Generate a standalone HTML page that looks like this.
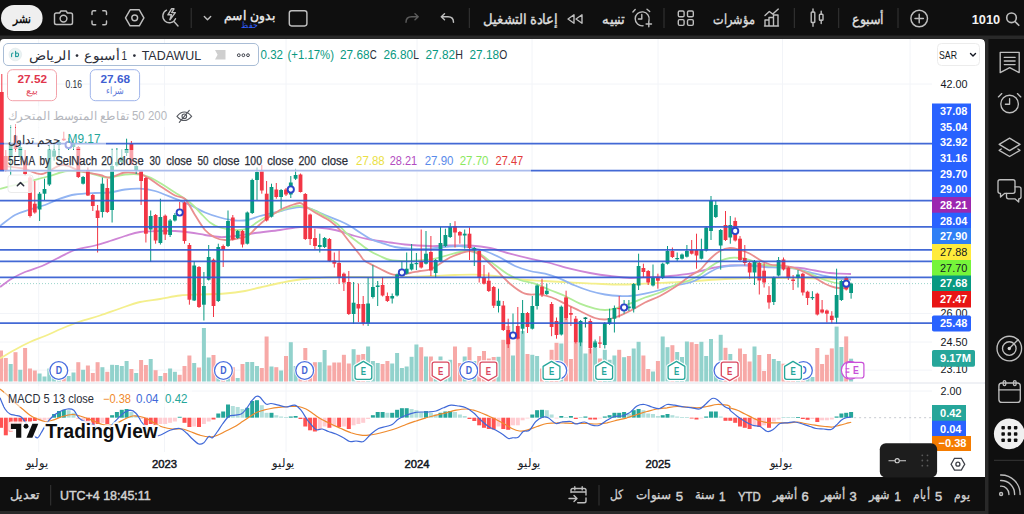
<!DOCTYPE html>
<html lang="ar"><head><meta charset="utf-8"><title>TADAWUL chart</title>
<style>
html,body{margin:0;padding:0;background:#292929;}
body{width:1024px;height:514px;overflow:hidden;font-family:"Liberation Sans",sans-serif;}
svg{display:block;font-family:"Liberation Sans",sans-serif;}
</style></head><body>
<svg width="1024" height="514" viewBox="0 0 1024 514" font-family="Liberation Sans, sans-serif">
<rect width="1024" height="514" fill="#292929"/>
<rect x="0" y="0" width="1024" height="35.5" fill="#0f0f0f"/>
<rect x="988.5" y="39" width="36" height="475" fill="#0f0f0f"/>
<rect x="0" y="477" width="985" height="34" fill="#0f0f0f"/>
<path d="M0 477V43Q0 39 4 39H980Q985 39 985 44V477Z" fill="#fff"/>
<g id="chart">
<line x1="38.7" y1="39" x2="38.7" y2="452" stroke="#f2f4f8" stroke-width="1"/>
<line x1="164.5" y1="39" x2="164.5" y2="452" stroke="#f2f4f8" stroke-width="1"/>
<line x1="286" y1="39" x2="286" y2="452" stroke="#f2f4f8" stroke-width="1"/>
<line x1="417" y1="39" x2="417" y2="452" stroke="#f2f4f8" stroke-width="1"/>
<line x1="532" y1="39" x2="532" y2="452" stroke="#f2f4f8" stroke-width="1"/>
<line x1="658" y1="39" x2="658" y2="452" stroke="#f2f4f8" stroke-width="1"/>
<line x1="782.5" y1="39" x2="782.5" y2="452" stroke="#f2f4f8" stroke-width="1"/>
<line x1="910" y1="39" x2="910" y2="452" stroke="#f2f4f8" stroke-width="1"/>
<line x1="0" y1="84.0" x2="932" y2="84.0" stroke="#f2f4f8" stroke-width="1"/>
<line x1="0" y1="313.5" x2="932" y2="313.5" stroke="#f2f4f8" stroke-width="1"/>
<line x1="0" y1="342.0" x2="932" y2="342.0" stroke="#f2f4f8" stroke-width="1"/>
<line x1="0" y1="370.1" x2="932" y2="370.1" stroke="#f2f4f8" stroke-width="1"/>
<line x1="0" y1="391" x2="932" y2="391" stroke="#f2f4f8" stroke-width="1"/>
<rect x="-1.0" y="350.5" width="4" height="31.0" fill="#f7a9a7"/>
<rect x="3.8" y="358.0" width="4" height="23.5" fill="#f7a9a7"/>
<rect x="8.7" y="364.0" width="4" height="17.5" fill="#92d2cc"/>
<rect x="13.5" y="352.2" width="4" height="29.2" fill="#f7a9a7"/>
<rect x="18.3" y="369.8" width="4" height="11.8" fill="#92d2cc"/>
<rect x="23.1" y="348.0" width="4" height="33.5" fill="#f7a9a7"/>
<rect x="28.0" y="368.5" width="4" height="13.0" fill="#f7a9a7"/>
<rect x="32.8" y="370.5" width="4" height="11.0" fill="#f7a9a7"/>
<rect x="37.6" y="373.5" width="4" height="8.0" fill="#92d2cc"/>
<rect x="42.5" y="376.5" width="4" height="5.0" fill="#92d2cc"/>
<rect x="47.3" y="368.5" width="4" height="13.0" fill="#92d2cc"/>
<rect x="52.1" y="373.5" width="4" height="8.0" fill="#92d2cc"/>
<rect x="57.0" y="371.0" width="4" height="10.5" fill="#92d2cc"/>
<rect x="61.8" y="372.2" width="4" height="9.2" fill="#f7a9a7"/>
<rect x="66.6" y="376.0" width="4" height="5.5" fill="#92d2cc"/>
<rect x="71.5" y="372.5" width="4" height="9.0" fill="#92d2cc"/>
<rect x="76.3" y="362.2" width="4" height="19.2" fill="#f7a9a7"/>
<rect x="81.1" y="369.8" width="4" height="11.8" fill="#92d2cc"/>
<rect x="85.9" y="365.5" width="4" height="16.0" fill="#f7a9a7"/>
<rect x="90.8" y="373.0" width="4" height="8.5" fill="#f7a9a7"/>
<rect x="95.6" y="362.2" width="4" height="19.2" fill="#f7a9a7"/>
<rect x="100.4" y="367.2" width="4" height="14.2" fill="#92d2cc"/>
<rect x="105.3" y="371.8" width="4" height="9.8" fill="#f7a9a7"/>
<rect x="110.1" y="364.8" width="4" height="16.8" fill="#92d2cc"/>
<rect x="114.9" y="365.0" width="4" height="16.5" fill="#92d2cc"/>
<rect x="119.8" y="366.0" width="4" height="15.5" fill="#92d2cc"/>
<rect x="124.6" y="361.0" width="4" height="20.5" fill="#92d2cc"/>
<rect x="129.4" y="369.0" width="4" height="12.5" fill="#f7a9a7"/>
<rect x="134.2" y="373.0" width="4" height="8.5" fill="#92d2cc"/>
<rect x="139.1" y="360.0" width="4" height="21.5" fill="#f7a9a7"/>
<rect x="143.9" y="365.0" width="4" height="16.5" fill="#f7a9a7"/>
<rect x="148.7" y="359.0" width="4" height="22.5" fill="#92d2cc"/>
<rect x="153.6" y="370.2" width="4" height="11.2" fill="#f7a9a7"/>
<rect x="158.4" y="376.0" width="4" height="5.5" fill="#92d2cc"/>
<rect x="163.2" y="373.0" width="4" height="8.5" fill="#f7a9a7"/>
<rect x="168.1" y="368.5" width="4" height="13.0" fill="#92d2cc"/>
<rect x="172.9" y="371.8" width="4" height="9.8" fill="#92d2cc"/>
<rect x="177.7" y="374.8" width="4" height="6.8" fill="#f7a9a7"/>
<rect x="182.5" y="366.0" width="4" height="15.5" fill="#f7a9a7"/>
<rect x="187.4" y="355.5" width="4" height="26.0" fill="#f7a9a7"/>
<rect x="192.2" y="363.0" width="4" height="18.5" fill="#92d2cc"/>
<rect x="197.0" y="367.5" width="4" height="14.0" fill="#f7a9a7"/>
<rect x="201.9" y="328.0" width="4" height="53.5" fill="#92d2cc"/>
<rect x="206.7" y="357.5" width="4" height="24.0" fill="#92d2cc"/>
<rect x="211.5" y="355.0" width="4" height="26.5" fill="#f7a9a7"/>
<rect x="216.3" y="366.0" width="4" height="15.5" fill="#92d2cc"/>
<rect x="221.2" y="369.8" width="4" height="11.8" fill="#f7a9a7"/>
<rect x="226.0" y="363.5" width="4" height="18.0" fill="#92d2cc"/>
<rect x="230.8" y="367.2" width="4" height="14.2" fill="#f7a9a7"/>
<rect x="235.7" y="378.0" width="4" height="3.5" fill="#92d2cc"/>
<rect x="240.5" y="364.0" width="4" height="17.5" fill="#f7a9a7"/>
<rect x="245.3" y="362.0" width="4" height="19.5" fill="#92d2cc"/>
<rect x="250.2" y="362.0" width="4" height="19.5" fill="#92d2cc"/>
<rect x="255.0" y="366.0" width="4" height="15.5" fill="#92d2cc"/>
<rect x="259.8" y="368.0" width="4" height="13.5" fill="#f7a9a7"/>
<rect x="264.6" y="336.5" width="4" height="45.0" fill="#f7a9a7"/>
<rect x="269.5" y="366.5" width="4" height="15.0" fill="#92d2cc"/>
<rect x="274.3" y="367.2" width="4" height="14.2" fill="#f7a9a7"/>
<rect x="279.1" y="370.5" width="4" height="11.0" fill="#92d2cc"/>
<rect x="284.0" y="356.0" width="4" height="25.5" fill="#f7a9a7"/>
<rect x="288.8" y="342.2" width="4" height="39.2" fill="#92d2cc"/>
<rect x="293.6" y="366.0" width="4" height="15.5" fill="#92d2cc"/>
<rect x="298.5" y="366.0" width="4" height="15.5" fill="#f7a9a7"/>
<rect x="303.3" y="348.0" width="4" height="33.5" fill="#f7a9a7"/>
<rect x="308.1" y="363.5" width="4" height="18.0" fill="#f7a9a7"/>
<rect x="312.9" y="362.2" width="4" height="19.2" fill="#f7a9a7"/>
<rect x="317.8" y="362.2" width="4" height="19.2" fill="#92d2cc"/>
<rect x="322.6" y="350.0" width="4" height="31.5" fill="#92d2cc"/>
<rect x="327.4" y="365.5" width="4" height="16.0" fill="#f7a9a7"/>
<rect x="332.3" y="362.5" width="4" height="19.0" fill="#f7a9a7"/>
<rect x="337.1" y="362.5" width="4" height="19.0" fill="#f7a9a7"/>
<rect x="341.9" y="354.8" width="4" height="26.8" fill="#f7a9a7"/>
<rect x="346.8" y="363.5" width="4" height="18.0" fill="#f7a9a7"/>
<rect x="351.6" y="349.2" width="4" height="32.2" fill="#92d2cc"/>
<rect x="356.4" y="354.8" width="4" height="26.8" fill="#f7a9a7"/>
<rect x="361.2" y="354.0" width="4" height="27.5" fill="#f7a9a7"/>
<rect x="366.1" y="346.5" width="4" height="35.0" fill="#92d2cc"/>
<rect x="370.9" y="361.0" width="4" height="20.5" fill="#92d2cc"/>
<rect x="375.7" y="363.0" width="4" height="18.5" fill="#92d2cc"/>
<rect x="380.6" y="364.0" width="4" height="17.5" fill="#f7a9a7"/>
<rect x="385.4" y="361.0" width="4" height="20.5" fill="#f7a9a7"/>
<rect x="390.2" y="363.5" width="4" height="18.0" fill="#92d2cc"/>
<rect x="395.1" y="353.0" width="4" height="28.5" fill="#92d2cc"/>
<rect x="399.9" y="368.0" width="4" height="13.5" fill="#92d2cc"/>
<rect x="404.7" y="366.5" width="4" height="15.0" fill="#92d2cc"/>
<rect x="409.6" y="356.8" width="4" height="24.8" fill="#92d2cc"/>
<rect x="414.4" y="344.5" width="4" height="37.0" fill="#92d2cc"/>
<rect x="419.2" y="347.2" width="4" height="34.2" fill="#f7a9a7"/>
<rect x="424.0" y="356.5" width="4" height="25.0" fill="#92d2cc"/>
<rect x="428.9" y="356.5" width="4" height="25.0" fill="#f7a9a7"/>
<rect x="433.7" y="361.0" width="4" height="20.5" fill="#92d2cc"/>
<rect x="438.5" y="356.5" width="4" height="25.0" fill="#92d2cc"/>
<rect x="443.4" y="363.5" width="4" height="18.0" fill="#92d2cc"/>
<rect x="448.2" y="359.8" width="4" height="21.8" fill="#92d2cc"/>
<rect x="453.0" y="346.5" width="4" height="35.0" fill="#f7a9a7"/>
<rect x="457.9" y="363.0" width="4" height="18.5" fill="#f7a9a7"/>
<rect x="462.7" y="356.5" width="4" height="25.0" fill="#92d2cc"/>
<rect x="467.5" y="347.2" width="4" height="34.2" fill="#f7a9a7"/>
<rect x="472.3" y="361.0" width="4" height="20.5" fill="#92d2cc"/>
<rect x="477.2" y="356.0" width="4" height="25.5" fill="#f7a9a7"/>
<rect x="482.0" y="351.0" width="4" height="30.5" fill="#f7a9a7"/>
<rect x="486.8" y="358.5" width="4" height="23.0" fill="#f7a9a7"/>
<rect x="491.7" y="357.0" width="4" height="24.5" fill="#f7a9a7"/>
<rect x="496.5" y="356.8" width="4" height="24.8" fill="#92d2cc"/>
<rect x="501.3" y="339.8" width="4" height="41.8" fill="#f7a9a7"/>
<rect x="506.2" y="326.0" width="4" height="55.5" fill="#f7a9a7"/>
<rect x="511.0" y="355.5" width="4" height="26.0" fill="#92d2cc"/>
<rect x="515.8" y="337.0" width="4" height="44.5" fill="#f7a9a7"/>
<rect x="520.6" y="331.0" width="4" height="50.5" fill="#92d2cc"/>
<rect x="525.5" y="354.0" width="4" height="27.5" fill="#f7a9a7"/>
<rect x="530.3" y="354.8" width="4" height="26.8" fill="#92d2cc"/>
<rect x="535.1" y="356.0" width="4" height="25.5" fill="#92d2cc"/>
<rect x="540.0" y="368.5" width="4" height="13.0" fill="#f7a9a7"/>
<rect x="544.8" y="363.5" width="4" height="18.0" fill="#92d2cc"/>
<rect x="549.6" y="349.8" width="4" height="31.8" fill="#f7a9a7"/>
<rect x="554.5" y="342.8" width="4" height="38.8" fill="#f7a9a7"/>
<rect x="559.3" y="343.5" width="4" height="38.0" fill="#92d2cc"/>
<rect x="564.1" y="297.2" width="4" height="84.2" fill="#f7a9a7"/>
<rect x="568.9" y="359.0" width="4" height="22.5" fill="#f7a9a7"/>
<rect x="573.8" y="342.9" width="4" height="38.6" fill="#f7a9a7"/>
<rect x="578.6" y="342.2" width="4" height="39.2" fill="#92d2cc"/>
<rect x="583.4" y="353.5" width="4" height="28.0" fill="#92d2cc"/>
<rect x="588.3" y="348.5" width="4" height="33.0" fill="#f7a9a7"/>
<rect x="593.1" y="341.0" width="4" height="40.5" fill="#92d2cc"/>
<rect x="597.9" y="358.5" width="4" height="23.0" fill="#f7a9a7"/>
<rect x="602.8" y="349.8" width="4" height="31.8" fill="#92d2cc"/>
<rect x="607.6" y="359.8" width="4" height="21.8" fill="#92d2cc"/>
<rect x="612.4" y="355.5" width="4" height="26.0" fill="#92d2cc"/>
<rect x="617.2" y="349.8" width="4" height="31.8" fill="#f7a9a7"/>
<rect x="622.1" y="357.2" width="4" height="24.2" fill="#92d2cc"/>
<rect x="626.9" y="356.0" width="4" height="25.5" fill="#f7a9a7"/>
<rect x="631.7" y="348.5" width="4" height="33.0" fill="#92d2cc"/>
<rect x="636.6" y="341.8" width="4" height="39.8" fill="#92d2cc"/>
<rect x="641.4" y="355.5" width="4" height="26.0" fill="#f7a9a7"/>
<rect x="646.2" y="369.0" width="4" height="12.5" fill="#f7a9a7"/>
<rect x="651.0" y="371.5" width="4" height="10.0" fill="#92d2cc"/>
<rect x="655.9" y="361.0" width="4" height="20.5" fill="#f7a9a7"/>
<rect x="660.7" y="336.5" width="4" height="45.0" fill="#92d2cc"/>
<rect x="665.5" y="347.2" width="4" height="34.2" fill="#92d2cc"/>
<rect x="670.4" y="345.2" width="4" height="36.2" fill="#f7a9a7"/>
<rect x="675.2" y="352.0" width="4" height="29.5" fill="#92d2cc"/>
<rect x="680.0" y="357.0" width="4" height="24.5" fill="#92d2cc"/>
<rect x="684.9" y="341.5" width="4" height="40.0" fill="#92d2cc"/>
<rect x="689.7" y="342.2" width="4" height="39.2" fill="#f7a9a7"/>
<rect x="694.5" y="344.0" width="4" height="37.5" fill="#f7a9a7"/>
<rect x="699.4" y="341.8" width="4" height="39.8" fill="#92d2cc"/>
<rect x="704.2" y="356.0" width="4" height="25.5" fill="#92d2cc"/>
<rect x="709.0" y="339.0" width="4" height="42.5" fill="#92d2cc"/>
<rect x="713.8" y="373.5" width="4" height="8.0" fill="#92d2cc"/>
<rect x="718.7" y="334.8" width="4" height="46.8" fill="#92d2cc"/>
<rect x="723.5" y="347.8" width="4" height="33.8" fill="#f7a9a7"/>
<rect x="728.3" y="354.0" width="4" height="27.5" fill="#92d2cc"/>
<rect x="733.2" y="366.0" width="4" height="15.5" fill="#f7a9a7"/>
<rect x="738.0" y="348.5" width="4" height="33.0" fill="#f7a9a7"/>
<rect x="742.8" y="354.0" width="4" height="27.5" fill="#f7a9a7"/>
<rect x="747.6" y="361.5" width="4" height="20.0" fill="#f7a9a7"/>
<rect x="752.5" y="346.5" width="4" height="35.0" fill="#92d2cc"/>
<rect x="757.3" y="355.0" width="4" height="26.5" fill="#f7a9a7"/>
<rect x="762.1" y="371.0" width="4" height="10.5" fill="#f7a9a7"/>
<rect x="767.0" y="354.0" width="4" height="27.5" fill="#f7a9a7"/>
<rect x="771.8" y="359.0" width="4" height="22.5" fill="#92d2cc"/>
<rect x="776.6" y="361.0" width="4" height="20.5" fill="#92d2cc"/>
<rect x="781.5" y="363.7" width="4" height="17.8" fill="#f7a9a7"/>
<rect x="786.3" y="366.0" width="4" height="15.5" fill="#f7a9a7"/>
<rect x="791.1" y="368.0" width="4" height="13.5" fill="#f7a9a7"/>
<rect x="796.0" y="372.0" width="4" height="9.5" fill="#92d2cc"/>
<rect x="800.8" y="374.0" width="4" height="7.5" fill="#f7a9a7"/>
<rect x="805.6" y="378.0" width="4" height="3.5" fill="#92d2cc"/>
<rect x="810.4" y="377.0" width="4" height="4.5" fill="#92d2cc"/>
<rect x="815.3" y="348.0" width="4" height="33.5" fill="#f7a9a7"/>
<rect x="820.1" y="364.0" width="4" height="17.5" fill="#f7a9a7"/>
<rect x="824.9" y="354.8" width="4" height="26.7" fill="#f7a9a7"/>
<rect x="829.8" y="348.4" width="4" height="33.1" fill="#f7a9a7"/>
<rect x="834.6" y="326.6" width="4" height="54.9" fill="#92d2cc"/>
<rect x="839.4" y="347.0" width="4" height="34.5" fill="#92d2cc"/>
<rect x="844.2" y="336.4" width="4" height="45.1" fill="#f7a9a7"/>
<rect x="849.1" y="358.7" width="4" height="22.8" fill="#92d2cc"/>
<line x1="0" y1="283.6" x2="932" y2="283.6" stroke="#089981" stroke-width="1" stroke-dasharray="1 2" opacity="0.4"/>
<path d="M0.0 358.5C2.5 357.0 10.0 352.4 15.0 349.7C20.0 346.9 25.0 344.3 30.0 342.0C35.0 339.7 39.7 338.2 45.0 336.0C50.3 333.8 56.2 330.9 62.0 328.5C67.8 326.1 73.7 323.7 80.0 321.5C86.3 319.3 93.3 317.7 100.0 315.5C106.7 313.3 113.3 310.8 120.0 308.5C126.7 306.2 133.3 303.6 140.0 302.0C146.7 300.4 153.3 300.1 160.0 299.0C166.7 297.9 173.3 296.2 180.0 295.5C186.7 294.8 192.5 294.8 200.0 294.5C207.5 294.2 217.5 294.1 225.0 293.5C232.5 292.9 239.2 292.0 245.0 291.0C250.8 290.0 254.2 288.8 260.0 287.5C265.8 286.2 273.3 284.3 280.0 283.0C286.7 281.7 293.3 280.3 300.0 279.5C306.7 278.7 313.3 278.4 320.0 278.0C326.7 277.6 333.3 277.2 340.0 277.0C346.7 276.8 353.3 276.9 360.0 277.0C366.7 277.1 372.5 277.5 380.0 277.5C387.5 277.5 396.7 277.2 405.0 277.0C413.3 276.8 421.7 276.3 430.0 276.0C438.3 275.7 447.5 275.2 455.0 275.0C462.5 274.8 468.3 274.5 475.0 274.7C481.7 274.9 487.5 275.2 495.0 276.0C502.5 276.8 511.7 278.7 520.0 279.5C528.3 280.3 536.7 280.5 545.0 281.0C553.3 281.5 561.7 282.1 570.0 282.5C578.3 282.9 586.7 283.4 595.0 283.7C603.3 284.0 611.7 284.5 620.0 284.5C628.3 284.5 636.7 284.0 645.0 283.7C653.3 283.4 661.7 282.9 670.0 282.5C678.3 282.1 685.8 281.6 695.0 281.0C704.2 280.4 715.8 279.5 725.0 279.0C734.2 278.5 741.7 278.2 750.0 278.0C758.3 277.8 766.7 278.0 775.0 278.0C783.3 278.0 791.7 277.9 800.0 278.0C808.3 278.1 816.5 278.4 825.0 278.7C833.5 278.9 846.7 279.4 851.0 279.5" fill="none" stroke="#f4ef8c" stroke-width="1.8" stroke-linejoin="round"/>
<path d="M0.0 287.0C2.0 285.6 7.8 281.0 12.0 278.5C16.2 276.0 20.0 274.1 25.0 272.0C30.0 269.9 36.7 268.2 42.0 266.0C47.3 263.8 51.5 261.2 57.0 258.5C62.5 255.8 68.7 252.2 75.0 250.0C81.3 247.8 89.2 247.0 95.0 245.5C100.8 244.0 105.0 242.6 110.0 241.0C115.0 239.4 120.0 237.5 125.0 236.0C130.0 234.5 134.2 232.8 140.0 232.0C145.8 231.2 154.2 231.2 160.0 231.0C165.8 230.8 170.0 230.8 175.0 231.0C180.0 231.2 185.0 231.8 190.0 232.5C195.0 233.2 200.0 234.2 205.0 235.0C210.0 235.8 215.0 236.8 220.0 237.0C225.0 237.2 229.2 236.7 235.0 236.0C240.8 235.3 247.5 234.0 255.0 233.0C262.5 232.0 272.5 231.0 280.0 230.0C287.5 229.0 293.8 227.4 300.0 227.0C306.2 226.6 311.2 227.0 317.0 227.5C322.8 228.0 328.7 228.6 335.0 230.0C341.3 231.4 349.2 234.4 355.0 236.0C360.8 237.6 364.2 238.4 370.0 239.5C375.8 240.6 384.2 241.7 390.0 242.5C395.8 243.3 398.3 243.9 405.0 244.5C411.7 245.1 422.5 245.8 430.0 246.0C437.5 246.2 443.3 245.6 450.0 245.5C456.7 245.4 463.3 245.1 470.0 245.5C476.7 245.9 483.3 246.6 490.0 248.0C496.7 249.4 503.3 251.9 510.0 253.7C516.7 255.5 523.3 257.1 530.0 258.7C536.7 260.2 543.3 261.3 550.0 263.0C556.7 264.7 563.3 267.0 570.0 268.7C576.7 270.4 583.3 271.8 590.0 273.0C596.7 274.2 603.3 275.2 610.0 276.0C616.7 276.8 623.3 277.8 630.0 278.0C636.7 278.2 643.3 277.3 650.0 277.0C656.7 276.7 663.3 276.6 670.0 276.0C676.7 275.4 684.2 274.7 690.0 273.7C695.8 272.7 700.8 271.0 705.0 270.0C709.2 269.0 710.8 268.2 715.0 267.5C719.2 266.8 724.2 265.8 730.0 265.5C735.8 265.2 744.2 265.4 750.0 265.5C755.8 265.6 760.0 265.8 765.0 266.0C770.0 266.2 774.2 266.7 780.0 267.0C785.8 267.3 794.2 267.4 800.0 268.0C805.8 268.6 810.0 269.7 815.0 270.5C820.0 271.3 825.8 272.5 830.0 273.0C834.2 273.5 836.5 273.5 840.0 273.7C843.5 273.9 849.2 273.9 851.0 274.0" fill="none" stroke="#cf86d6" stroke-width="1.8" stroke-linejoin="round"/>
<path d="M0.0 226.0C2.5 224.2 10.0 217.8 15.0 215.0C20.0 212.2 25.0 211.2 30.0 209.5C35.0 207.8 40.0 206.8 45.0 205.0C50.0 203.2 55.0 200.4 60.0 198.7C65.0 196.9 69.2 195.4 75.0 194.5C80.8 193.6 89.2 193.3 95.0 193.0C100.8 192.7 105.0 193.1 110.0 192.5C115.0 191.9 120.0 190.1 125.0 189.5C130.0 188.9 135.0 188.4 140.0 188.7C145.0 188.9 149.2 189.3 155.0 191.0C160.8 192.7 169.2 196.4 175.0 198.7C180.8 201.0 185.0 202.7 190.0 205.0C195.0 207.3 200.0 210.4 205.0 212.5C210.0 214.6 215.0 216.2 220.0 217.5C225.0 218.8 230.3 220.1 235.0 220.5C239.7 220.9 243.8 220.8 248.0 220.0C252.2 219.2 255.5 217.2 260.0 216.0C264.5 214.8 270.0 213.7 275.0 212.5C280.0 211.3 285.8 209.6 290.0 208.7C294.2 207.8 296.7 207.0 300.0 207.0C303.3 207.0 305.8 207.4 310.0 208.7C314.2 210.0 320.0 212.9 325.0 215.0C330.0 217.1 335.8 219.2 340.0 221.0C344.2 222.8 346.7 224.1 350.0 226.0C353.3 227.9 356.7 230.4 360.0 232.5C363.3 234.6 366.7 237.0 370.0 238.7C373.3 240.4 375.8 241.1 380.0 242.5C384.2 243.9 390.0 246.0 395.0 247.0C400.0 248.0 404.2 248.4 410.0 248.7C415.8 249.0 424.2 249.0 430.0 248.7C435.8 248.4 440.0 247.4 445.0 247.0C450.0 246.6 455.5 245.8 460.0 246.0C464.5 246.2 467.8 247.2 472.0 248.0C476.2 248.8 480.3 249.4 485.0 251.0C489.7 252.6 495.0 255.0 500.0 257.5C505.0 260.0 510.0 263.8 515.0 266.0C520.0 268.2 525.0 269.7 530.0 271.0C535.0 272.3 540.0 272.4 545.0 273.7C550.0 275.0 555.0 276.7 560.0 278.7C565.0 280.7 570.0 283.4 575.0 285.5C580.0 287.6 585.0 289.5 590.0 291.0C595.0 292.5 600.0 293.7 605.0 294.5C610.0 295.3 615.8 295.8 620.0 296.0C624.2 296.2 625.8 296.4 630.0 296.0C634.2 295.6 640.0 294.7 645.0 293.7C650.0 292.7 655.0 291.4 660.0 290.0C665.0 288.6 670.0 286.8 675.0 285.5C680.0 284.2 685.8 283.8 690.0 282.5C694.2 281.2 696.7 279.8 700.0 278.0C703.3 276.2 706.7 273.8 710.0 272.0C713.3 270.2 715.8 268.6 720.0 267.5C724.2 266.4 730.0 265.8 735.0 265.5C740.0 265.2 745.0 265.2 750.0 265.5C755.0 265.8 760.0 266.7 765.0 267.0C770.0 267.3 775.0 267.2 780.0 267.5C785.0 267.8 790.0 267.9 795.0 268.7C800.0 269.5 805.0 271.3 810.0 272.5C815.0 273.7 820.0 275.0 825.0 276.0C830.0 277.0 835.7 278.1 840.0 278.7C844.3 279.3 849.2 279.4 851.0 279.5" fill="none" stroke="#92b4f2" stroke-width="1.8" stroke-linejoin="round"/>
<path d="M0.0 189.0C2.5 188.3 10.0 186.3 15.0 185.0C20.0 183.7 24.2 182.5 30.0 181.0C35.8 179.5 43.8 177.7 50.0 176.0C56.2 174.3 60.8 171.6 67.0 171.0C73.2 170.4 80.3 171.4 87.0 172.5C93.7 173.6 100.7 177.2 107.0 177.5C113.3 177.8 119.5 175.0 125.0 174.5C130.5 174.0 135.0 173.6 140.0 174.5C145.0 175.4 149.2 177.0 155.0 180.0C160.8 183.0 169.2 188.8 175.0 192.5C180.8 196.2 185.8 199.2 190.0 202.5C194.2 205.8 196.7 209.2 200.0 212.5C203.3 215.8 206.7 220.0 210.0 222.5C213.3 225.0 215.8 226.2 220.0 227.5C224.2 228.8 230.4 229.8 235.0 230.0C239.6 230.2 244.2 229.8 247.5 228.7C250.8 227.6 252.1 225.6 255.0 223.7C257.9 221.8 260.8 219.6 265.0 217.5C269.2 215.4 275.5 212.8 280.0 211.0C284.5 209.2 288.7 207.8 292.0 207.0C295.3 206.2 297.0 205.7 300.0 206.0C303.0 206.3 305.8 207.0 310.0 208.7C314.2 210.4 320.5 213.5 325.0 216.0C329.5 218.5 333.3 220.8 337.0 223.7C340.7 226.6 343.2 230.4 347.0 233.7C350.8 237.0 356.2 240.8 360.0 243.7C363.8 246.6 366.7 248.9 370.0 251.0C373.3 253.1 376.7 254.5 380.0 256.0C383.3 257.5 385.8 259.1 390.0 260.0C394.2 260.9 400.0 261.1 405.0 261.2C410.0 261.3 415.0 260.9 420.0 260.5C425.0 260.1 430.0 259.7 435.0 258.7C440.0 257.7 445.0 255.8 450.0 254.5C455.0 253.2 461.3 251.8 465.0 251.0C468.7 250.2 469.5 249.6 472.0 250.0C474.5 250.4 476.2 251.2 480.0 253.7C483.8 256.2 490.5 261.7 495.0 265.0C499.5 268.3 502.8 271.2 507.0 273.7C511.2 276.2 515.3 278.3 520.0 280.0C524.7 281.7 530.0 282.0 535.0 283.7C540.0 285.4 545.0 287.9 550.0 290.0C555.0 292.1 560.0 293.7 565.0 296.0C570.0 298.3 575.0 301.6 580.0 303.7C585.0 305.8 590.8 307.6 595.0 308.7C599.2 309.8 601.7 310.0 605.0 310.0C608.3 310.0 610.8 309.8 615.0 308.7C619.2 307.6 625.0 305.6 630.0 303.7C635.0 301.8 640.0 299.4 645.0 297.5C650.0 295.6 655.0 294.6 660.0 292.5C665.0 290.4 670.0 287.1 675.0 285.0C680.0 282.9 685.8 281.7 690.0 280.0C694.2 278.3 696.7 277.2 700.0 275.0C703.3 272.8 706.7 269.3 710.0 267.0C713.3 264.7 716.7 262.5 720.0 261.0C723.3 259.5 726.7 258.5 730.0 258.0C733.3 257.5 736.7 257.7 740.0 258.0C743.3 258.3 745.8 258.8 750.0 260.0C754.2 261.2 760.0 264.0 765.0 265.0C770.0 266.0 775.0 265.6 780.0 266.2C785.0 266.8 790.0 267.4 795.0 268.7C800.0 269.9 805.0 271.8 810.0 273.7C815.0 275.6 820.0 278.3 825.0 280.0C830.0 281.7 835.7 283.1 840.0 283.7C844.3 284.3 849.2 283.7 851.0 283.7" fill="none" stroke="#b1ec98" stroke-width="1.8" stroke-linejoin="round"/>
<path d="M4.0 166.0C5.3 166.2 8.5 166.5 12.0 167.0C15.5 167.5 20.0 167.8 25.0 169.0C30.0 170.2 35.8 174.7 42.0 174.0C48.2 173.3 55.7 165.5 62.0 165.0C68.3 164.5 73.7 169.3 80.0 171.0C86.3 172.7 95.0 173.9 100.0 175.0C105.0 176.1 105.8 177.9 110.0 177.5C114.2 177.1 120.0 173.1 125.0 172.5C130.0 171.9 135.8 172.9 140.0 174.0C144.2 175.1 146.7 177.0 150.0 179.0C153.3 181.0 155.8 183.2 160.0 186.0C164.2 188.8 170.8 193.3 175.0 195.5C179.2 197.7 181.7 195.8 185.0 199.0C188.3 202.2 191.7 209.8 195.0 215.0C198.3 220.2 201.7 226.2 205.0 230.0C208.3 233.8 211.7 235.8 215.0 237.5C218.3 239.2 221.7 239.8 225.0 240.0C228.3 240.2 231.2 239.7 235.0 239.0C238.8 238.3 244.2 237.7 247.5 236.0C250.8 234.3 252.1 231.7 255.0 229.0C257.9 226.3 260.8 223.2 265.0 220.0C269.2 216.8 275.5 212.5 280.0 210.0C284.5 207.5 288.7 206.2 292.0 205.0C295.3 203.8 297.8 202.8 300.0 203.0C302.2 203.2 302.5 204.4 305.0 206.0C307.5 207.6 310.8 210.0 315.0 212.5C319.2 215.0 325.8 218.1 330.0 221.0C334.2 223.9 336.7 226.4 340.0 230.0C343.3 233.6 346.7 238.3 350.0 242.5C353.3 246.7 357.5 251.9 360.0 255.0C362.5 258.1 361.7 258.7 365.0 261.0C368.3 263.3 375.8 266.6 380.0 268.7C384.2 270.8 387.2 272.6 390.0 273.7C392.8 274.8 393.7 275.1 397.0 275.0C400.3 274.9 406.2 273.7 410.0 273.0C413.8 272.3 416.7 271.6 420.0 271.0C423.3 270.4 426.7 270.7 430.0 269.5C433.3 268.3 436.7 265.7 440.0 263.7C443.3 261.7 446.7 259.2 450.0 257.5C453.3 255.8 456.7 254.8 460.0 253.7C463.3 252.6 466.7 250.8 470.0 251.0C473.3 251.2 475.8 252.1 480.0 255.0C484.2 257.9 490.0 263.9 495.0 268.7C500.0 273.5 505.0 279.5 510.0 283.7C515.0 287.9 520.0 291.9 525.0 293.7C530.0 295.5 535.5 293.9 540.0 294.5C544.5 295.1 547.8 296.0 552.0 297.5C556.2 299.0 560.3 301.4 565.0 303.7C569.7 305.9 575.0 308.6 580.0 311.0C585.0 313.4 590.8 316.6 595.0 318.0C599.2 319.4 601.7 319.6 605.0 319.5C608.3 319.4 610.8 318.9 615.0 317.5C619.2 316.1 625.0 313.5 630.0 311.0C635.0 308.5 640.0 305.0 645.0 302.5C650.0 300.0 655.0 298.6 660.0 296.0C665.0 293.4 670.0 290.3 675.0 287.0C680.0 283.7 685.8 278.8 690.0 276.0C694.2 273.2 696.7 272.8 700.0 270.0C703.3 267.2 706.7 262.2 710.0 259.0C713.3 255.8 716.7 252.8 720.0 251.0C723.3 249.2 726.7 248.2 730.0 248.0C733.3 247.8 736.7 249.1 740.0 250.0C743.3 250.9 746.7 252.0 750.0 253.7C753.3 255.4 756.7 258.2 760.0 260.0C763.3 261.8 766.3 263.6 770.0 264.5C773.7 265.4 777.8 264.9 782.0 265.5C786.2 266.1 790.3 266.4 795.0 268.0C799.7 269.6 805.0 272.4 810.0 275.0C815.0 277.6 820.8 281.6 825.0 283.7C829.2 285.8 831.7 286.8 835.0 287.5C838.3 288.2 842.3 288.2 845.0 288.0C847.7 287.8 850.0 286.3 851.0 286.0" fill="none" stroke="#ea8f8f" stroke-width="1.8" stroke-linejoin="round"/>
<path d="M1.8 74.0V170.0" stroke="#f23645" stroke-width="1"/><rect x="0" y="92.0" width="3.700" height="78.0" fill="#f23645"/>
<path d="M5.8 150.0V172.0" stroke="#f23645" stroke-width="1"/><rect x="3.9" y="156.0" width="3.8" height="14.0" fill="#f23645"/>
<path d="M10.7 125.0V175.0" stroke="#089981" stroke-width="1"/><rect x="8.8" y="144.0" width="3.8" height="12.0" fill="#089981"/>
<path d="M15.5 124.0V152.0" stroke="#f23645" stroke-width="1"/><rect x="13.6" y="135.6" width="3.8" height="13.4" fill="#f23645"/>
<path d="M20.3 140.0V160.0" stroke="#089981" stroke-width="1"/><rect x="18.4" y="147.0" width="3.8" height="9.0" fill="#089981"/>
<path d="M25.1 150.0V176.0" stroke="#f23645" stroke-width="1"/><rect x="23.2" y="160.6" width="3.8" height="13.4" fill="#f23645"/>
<path d="M30.0 176.0V217.5" stroke="#f23645" stroke-width="1"/><rect x="28.1" y="177.5" width="3.8" height="38.5" fill="#f23645"/>
<path d="M34.8 181.0V213.7" stroke="#f23645" stroke-width="1"/><rect x="32.9" y="203.7" width="3.8" height="8.8" fill="#f23645"/>
<path d="M39.6 192.0V221.0" stroke="#089981" stroke-width="1"/><rect x="37.7" y="193.7" width="3.8" height="15.8" fill="#089981"/>
<path d="M44.5 178.7V200.0" stroke="#089981" stroke-width="1"/><rect x="42.6" y="189.0" width="3.8" height="4.7" fill="#089981"/>
<path d="M49.3 145.0V186.0" stroke="#089981" stroke-width="1"/><rect x="47.4" y="149.7" width="3.8" height="34.8" fill="#089981"/>
<path d="M54.1 142.0V160.6" stroke="#089981" stroke-width="1"/><rect x="52.2" y="150.5" width="3.8" height="6.2" fill="#089981"/>
<path d="M59.0 140.0V159.0" stroke="#089981" stroke-width="1"/><rect x="57.1" y="142.0" width="3.8" height="3.0" fill="#089981"/>
<path d="M63.8 131.7V141.0" stroke="#f23645" stroke-width="1"/><rect x="61.9" y="138.7" width="3.8" height="1.6" fill="#f23645"/>
<path d="M68.6 138.0V150.0" stroke="#089981" stroke-width="1"/><rect x="66.7" y="141.0" width="3.8" height="5.0" fill="#089981"/>
<path d="M73.5 142.0V150.0" stroke="#089981" stroke-width="1"/><rect x="71.5" y="143.0" width="3.8" height="4.0" fill="#089981"/>
<path d="M78.3 146.0V178.0" stroke="#f23645" stroke-width="1"/><rect x="76.4" y="147.0" width="3.8" height="30.0" fill="#f23645"/>
<path d="M83.1 176.0V184.5" stroke="#089981" stroke-width="1"/><rect x="81.2" y="177.0" width="3.8" height="6.7" fill="#089981"/>
<path d="M87.9 167.5V196.0" stroke="#f23645" stroke-width="1"/><rect x="86.0" y="170.0" width="3.8" height="25.5" fill="#f23645"/>
<path d="M92.8 194.0V211.0" stroke="#f23645" stroke-width="1"/><rect x="90.9" y="195.0" width="3.8" height="11.0" fill="#f23645"/>
<path d="M97.6 205.0V252.5" stroke="#f23645" stroke-width="1"/><rect x="95.7" y="210.5" width="3.8" height="7.5" fill="#f23645"/>
<path d="M102.4 177.5V217.5" stroke="#089981" stroke-width="1"/><rect x="100.5" y="183.7" width="3.8" height="28.3" fill="#089981"/>
<path d="M107.3 178.7V213.0" stroke="#f23645" stroke-width="1"/><rect x="105.4" y="188.0" width="3.8" height="24.0" fill="#f23645"/>
<path d="M112.1 148.7V222.5" stroke="#089981" stroke-width="1"/><rect x="110.2" y="166.0" width="3.8" height="44.0" fill="#089981"/>
<path d="M116.9 148.0V166.5" stroke="#089981" stroke-width="1"/><rect x="115.0" y="162.0" width="3.8" height="3.3" fill="#089981"/>
<path d="M121.8 149.7V165.0" stroke="#089981" stroke-width="1"/><rect x="119.8" y="157.0" width="3.8" height="5.0" fill="#089981"/>
<path d="M126.6 138.7V156.0" stroke="#089981" stroke-width="1"/><rect x="124.7" y="149.0" width="3.8" height="4.0" fill="#089981"/>
<path d="M131.4 141.0V165.0" stroke="#f23645" stroke-width="1"/><rect x="129.5" y="144.0" width="3.8" height="20.5" fill="#f23645"/>
<path d="M136.2 165.0V174.0" stroke="#089981" stroke-width="1"/><rect x="134.3" y="166.0" width="3.8" height="4.0" fill="#089981"/>
<path d="M141.1 170.0V205.0" stroke="#f23645" stroke-width="1"/><rect x="139.2" y="171.0" width="3.8" height="10.0" fill="#f23645"/>
<path d="M145.9 177.0V242.5" stroke="#f23645" stroke-width="1"/><rect x="144.0" y="178.0" width="3.8" height="55.7" fill="#f23645"/>
<path d="M150.7 210.5V262.0" stroke="#089981" stroke-width="1"/><rect x="148.8" y="216.0" width="3.8" height="13.5" fill="#089981"/>
<path d="M155.6 214.0V243.7" stroke="#f23645" stroke-width="1"/><rect x="153.7" y="215.0" width="3.8" height="25.5" fill="#f23645"/>
<path d="M160.4 198.7V244.5" stroke="#089981" stroke-width="1"/><rect x="158.5" y="217.0" width="3.8" height="26.0" fill="#089981"/>
<path d="M165.2 214.5V240.0" stroke="#f23645" stroke-width="1"/><rect x="163.3" y="215.7" width="3.8" height="18.8" fill="#f23645"/>
<path d="M170.1 219.0V237.0" stroke="#089981" stroke-width="1"/><rect x="168.2" y="220.5" width="3.8" height="14.5" fill="#089981"/>
<path d="M174.9 213.0V221.5" stroke="#089981" stroke-width="1"/><rect x="173.0" y="215.0" width="3.8" height="5.5" fill="#089981"/>
<path d="M179.7 202.0V216.0" stroke="#f23645" stroke-width="1"/><rect x="177.8" y="210.5" width="3.8" height="3.5" fill="#f23645"/>
<path d="M184.5 201.5V243.7" stroke="#f23645" stroke-width="1"/><rect x="182.6" y="202.5" width="3.8" height="38.5" fill="#f23645"/>
<path d="M189.4 243.0V304.7" stroke="#f23645" stroke-width="1"/><rect x="187.5" y="245.0" width="3.8" height="54.7" fill="#f23645"/>
<path d="M194.2 261.0V301.0" stroke="#089981" stroke-width="1"/><rect x="192.3" y="265.5" width="3.8" height="35.0" fill="#089981"/>
<path d="M199.0 266.0V308.0" stroke="#f23645" stroke-width="1"/><rect x="197.1" y="267.0" width="3.8" height="40.0" fill="#f23645"/>
<path d="M203.9 272.0V320.5" stroke="#089981" stroke-width="1"/><rect x="202.0" y="286.0" width="3.8" height="18.7" fill="#089981"/>
<path d="M208.7 245.0V280.5" stroke="#089981" stroke-width="1"/><rect x="206.8" y="257.0" width="3.8" height="22.7" fill="#089981"/>
<path d="M213.5 258.5V317.0" stroke="#f23645" stroke-width="1"/><rect x="211.6" y="259.7" width="3.8" height="46.3" fill="#f23645"/>
<path d="M218.3 243.7V302.0" stroke="#089981" stroke-width="1"/><rect x="216.4" y="247.0" width="3.8" height="54.0" fill="#089981"/>
<path d="M223.2 244.5V267.0" stroke="#f23645" stroke-width="1"/><rect x="221.3" y="246.0" width="3.8" height="4.0" fill="#f23645"/>
<path d="M228.0 210.5V247.0" stroke="#089981" stroke-width="1"/><rect x="226.1" y="221.0" width="3.8" height="25.0" fill="#089981"/>
<path d="M232.8 215.0V240.5" stroke="#f23645" stroke-width="1"/><rect x="230.9" y="217.5" width="3.8" height="22.0" fill="#f23645"/>
<path d="M237.7 230.0V239.0" stroke="#089981" stroke-width="1"/><rect x="235.8" y="231.0" width="3.8" height="7.0" fill="#089981"/>
<path d="M242.5 230.0V247.5" stroke="#f23645" stroke-width="1"/><rect x="240.6" y="231.0" width="3.8" height="13.5" fill="#f23645"/>
<path d="M247.3 211.5V244.5" stroke="#089981" stroke-width="1"/><rect x="245.4" y="212.5" width="3.8" height="31.2" fill="#089981"/>
<path d="M252.2 178.7V214.0" stroke="#089981" stroke-width="1"/><rect x="250.3" y="180.0" width="3.8" height="33.0" fill="#089981"/>
<path d="M257.0 167.5V200.0" stroke="#089981" stroke-width="1"/><rect x="255.1" y="172.0" width="3.8" height="8.0" fill="#089981"/>
<path d="M261.8 165.0V193.7" stroke="#f23645" stroke-width="1"/><rect x="259.9" y="171.0" width="3.8" height="19.5" fill="#f23645"/>
<path d="M266.6 181.0V221.5" stroke="#f23645" stroke-width="1"/><rect x="264.8" y="193.7" width="3.8" height="26.8" fill="#f23645"/>
<path d="M271.5 183.7V217.5" stroke="#089981" stroke-width="1"/><rect x="269.6" y="187.0" width="3.8" height="29.7" fill="#089981"/>
<path d="M276.3 183.0V198.7" stroke="#f23645" stroke-width="1"/><rect x="274.4" y="189.5" width="3.8" height="7.5" fill="#f23645"/>
<path d="M281.1 189.0V208.7" stroke="#089981" stroke-width="1"/><rect x="279.2" y="190.0" width="3.8" height="7.0" fill="#089981"/>
<path d="M286.0 188.0V196.0" stroke="#f23645" stroke-width="1"/><rect x="284.1" y="189.5" width="3.8" height="5.0" fill="#f23645"/>
<path d="M290.8 176.0V198.0" stroke="#089981" stroke-width="1"/><rect x="288.9" y="182.5" width="3.8" height="12.0" fill="#089981"/>
<path d="M295.6 168.7V180.0" stroke="#089981" stroke-width="1"/><rect x="293.7" y="175.0" width="3.8" height="3.7" fill="#089981"/>
<path d="M300.5 173.5V192.5" stroke="#f23645" stroke-width="1"/><rect x="298.6" y="174.5" width="3.8" height="17.5" fill="#f23645"/>
<path d="M305.3 193.0V240.0" stroke="#f23645" stroke-width="1"/><rect x="303.4" y="194.0" width="3.8" height="45.0" fill="#f23645"/>
<path d="M310.1 213.5V245.0" stroke="#f23645" stroke-width="1"/><rect x="308.2" y="214.5" width="3.8" height="24.5" fill="#f23645"/>
<path d="M314.9 228.7V249.5" stroke="#f23645" stroke-width="1"/><rect x="313.1" y="238.0" width="3.8" height="8.0" fill="#f23645"/>
<path d="M319.8 233.7V252.5" stroke="#089981" stroke-width="1"/><rect x="317.9" y="245.0" width="3.8" height="2.0" fill="#089981"/>
<path d="M324.6 237.0V248.0" stroke="#089981" stroke-width="1"/><rect x="322.7" y="238.0" width="3.8" height="9.0" fill="#089981"/>
<path d="M329.4 238.0V262.0" stroke="#f23645" stroke-width="1"/><rect x="327.5" y="239.0" width="3.8" height="22.0" fill="#f23645"/>
<path d="M334.3 252.5V267.5" stroke="#f23645" stroke-width="1"/><rect x="332.4" y="260.5" width="3.8" height="3.2" fill="#f23645"/>
<path d="M339.1 250.5V284.0" stroke="#f23645" stroke-width="1"/><rect x="337.2" y="263.0" width="3.8" height="14.5" fill="#f23645"/>
<path d="M343.9 272.5V291.0" stroke="#f23645" stroke-width="1"/><rect x="342.0" y="273.7" width="3.8" height="8.8" fill="#f23645"/>
<path d="M348.8 271.0V315.0" stroke="#f23645" stroke-width="1"/><rect x="346.9" y="282.0" width="3.8" height="32.0" fill="#f23645"/>
<path d="M353.6 282.0V324.0" stroke="#089981" stroke-width="1"/><rect x="351.7" y="302.7" width="3.8" height="11.3" fill="#089981"/>
<path d="M358.4 283.5V322.0" stroke="#f23645" stroke-width="1"/><rect x="356.5" y="304.0" width="3.8" height="4.5" fill="#f23645"/>
<path d="M363.2 296.0V325.5" stroke="#f23645" stroke-width="1"/><rect x="361.4" y="304.0" width="3.8" height="19.5" fill="#f23645"/>
<path d="M368.1 277.5V326.0" stroke="#089981" stroke-width="1"/><rect x="366.2" y="303.5" width="3.8" height="20.0" fill="#089981"/>
<path d="M372.9 265.0V298.5" stroke="#089981" stroke-width="1"/><rect x="371.0" y="287.0" width="3.8" height="10.0" fill="#089981"/>
<path d="M377.7 281.0V306.0" stroke="#089981" stroke-width="1"/><rect x="375.8" y="285.5" width="3.8" height="1.5" fill="#089981"/>
<path d="M382.6 277.0V296.5" stroke="#f23645" stroke-width="1"/><rect x="380.7" y="285.0" width="3.8" height="10.5" fill="#f23645"/>
<path d="M387.4 292.5V302.0" stroke="#f23645" stroke-width="1"/><rect x="385.5" y="296.0" width="3.8" height="5.0" fill="#f23645"/>
<path d="M392.2 293.5V303.5" stroke="#089981" stroke-width="1"/><rect x="390.3" y="296.0" width="3.8" height="2.5" fill="#089981"/>
<path d="M397.1 273.5V296.5" stroke="#089981" stroke-width="1"/><rect x="395.2" y="274.5" width="3.8" height="21.0" fill="#089981"/>
<path d="M401.9 261.0V275.0" stroke="#089981" stroke-width="1"/><rect x="400.0" y="270.5" width="3.8" height="3.5" fill="#089981"/>
<path d="M406.7 252.5V274.5" stroke="#089981" stroke-width="1"/><rect x="404.8" y="268.7" width="3.8" height="5.0" fill="#089981"/>
<path d="M411.6 244.0V270.5" stroke="#089981" stroke-width="1"/><rect x="409.7" y="263.7" width="3.8" height="5.8" fill="#089981"/>
<path d="M416.4 253.0V270.0" stroke="#089981" stroke-width="1"/><rect x="414.5" y="263.0" width="3.8" height="1.2" fill="#089981"/>
<path d="M421.2 229.5V268.5" stroke="#f23645" stroke-width="1"/><rect x="419.3" y="261.0" width="3.8" height="6.5" fill="#f23645"/>
<path d="M426.0 231.0V264.5" stroke="#089981" stroke-width="1"/><rect x="424.1" y="253.7" width="3.8" height="10.0" fill="#089981"/>
<path d="M430.9 236.0V276.0" stroke="#f23645" stroke-width="1"/><rect x="429.0" y="252.0" width="3.8" height="18.5" fill="#f23645"/>
<path d="M435.7 259.0V278.0" stroke="#089981" stroke-width="1"/><rect x="433.8" y="260.0" width="3.8" height="13.0" fill="#089981"/>
<path d="M440.5 227.0V262.0" stroke="#089981" stroke-width="1"/><rect x="438.6" y="243.0" width="3.8" height="18.0" fill="#089981"/>
<path d="M445.4 228.7V247.0" stroke="#089981" stroke-width="1"/><rect x="443.5" y="235.0" width="3.8" height="11.0" fill="#089981"/>
<path d="M450.2 223.0V238.0" stroke="#089981" stroke-width="1"/><rect x="448.3" y="227.0" width="3.8" height="10.0" fill="#089981"/>
<path d="M455.0 221.2V247.5" stroke="#f23645" stroke-width="1"/><rect x="453.1" y="226.0" width="3.8" height="6.5" fill="#f23645"/>
<path d="M459.9 231.0V243.7" stroke="#f23645" stroke-width="1"/><rect x="458.0" y="232.0" width="3.8" height="3.5" fill="#f23645"/>
<path d="M464.7 229.5V248.7" stroke="#089981" stroke-width="1"/><rect x="462.8" y="233.7" width="3.8" height="1.8" fill="#089981"/>
<path d="M469.5 227.5V260.0" stroke="#f23645" stroke-width="1"/><rect x="467.6" y="233.7" width="3.8" height="14.3" fill="#f23645"/>
<path d="M474.3 247.0V266.0" stroke="#089981" stroke-width="1"/><rect x="472.4" y="248.0" width="3.8" height="2.3" fill="#089981"/>
<path d="M479.2 250.0V282.5" stroke="#f23645" stroke-width="1"/><rect x="477.3" y="251.0" width="3.8" height="26.5" fill="#f23645"/>
<path d="M484.0 265.0V284.5" stroke="#f23645" stroke-width="1"/><rect x="482.1" y="277.0" width="3.8" height="6.7" fill="#f23645"/>
<path d="M488.8 272.5V292.0" stroke="#f23645" stroke-width="1"/><rect x="486.9" y="280.7" width="3.8" height="10.3" fill="#f23645"/>
<path d="M493.7 286.0V308.0" stroke="#f23645" stroke-width="1"/><rect x="491.8" y="287.0" width="3.8" height="18.7" fill="#f23645"/>
<path d="M498.5 288.7V312.5" stroke="#089981" stroke-width="1"/><rect x="496.6" y="300.7" width="3.8" height="5.3" fill="#089981"/>
<path d="M503.3 301.0V331.0" stroke="#f23645" stroke-width="1"/><rect x="501.4" y="305.5" width="3.8" height="24.5" fill="#f23645"/>
<path d="M508.2 318.7V348.0" stroke="#f23645" stroke-width="1"/><rect x="506.3" y="330.0" width="3.8" height="14.2" fill="#f23645"/>
<path d="M513.0 313.5V337.5" stroke="#089981" stroke-width="1"/><rect x="511.1" y="334.0" width="3.8" height="2.0" fill="#089981"/>
<path d="M517.8 307.0V339.5" stroke="#f23645" stroke-width="1"/><rect x="515.9" y="326.0" width="3.8" height="12.7" fill="#f23645"/>
<path d="M522.6 300.0V333.7" stroke="#089981" stroke-width="1"/><rect x="520.7" y="313.0" width="3.8" height="15.7" fill="#089981"/>
<path d="M527.5 312.0V333.0" stroke="#f23645" stroke-width="1"/><rect x="525.6" y="313.0" width="3.8" height="14.0" fill="#f23645"/>
<path d="M532.3 296.0V329.5" stroke="#089981" stroke-width="1"/><rect x="530.4" y="306.0" width="3.8" height="22.7" fill="#089981"/>
<path d="M537.1 284.5V309.5" stroke="#089981" stroke-width="1"/><rect x="535.2" y="285.5" width="3.8" height="20.5" fill="#089981"/>
<path d="M542.0 278.7V297.0" stroke="#f23645" stroke-width="1"/><rect x="540.1" y="286.7" width="3.8" height="7.8" fill="#f23645"/>
<path d="M546.8 283.7V295.0" stroke="#089981" stroke-width="1"/><rect x="544.9" y="290.7" width="3.8" height="3.3" fill="#089981"/>
<path d="M551.6 302.0V336.2" stroke="#f23645" stroke-width="1"/><rect x="549.7" y="304.0" width="3.8" height="23.0" fill="#f23645"/>
<path d="M556.5 317.5V338.7" stroke="#f23645" stroke-width="1"/><rect x="554.6" y="321.0" width="3.8" height="14.0" fill="#f23645"/>
<path d="M561.3 305.5V335.5" stroke="#089981" stroke-width="1"/><rect x="559.4" y="306.7" width="3.8" height="27.8" fill="#089981"/>
<path d="M566.1 290.7V320.0" stroke="#f23645" stroke-width="1"/><rect x="564.2" y="297.5" width="3.8" height="20.5" fill="#f23645"/>
<path d="M570.9 306.7V326.0" stroke="#f23645" stroke-width="1"/><rect x="569.0" y="313.0" width="3.8" height="1.7" fill="#f23645"/>
<path d="M575.8 316.0V343.5" stroke="#f23645" stroke-width="1"/><rect x="573.9" y="318.7" width="3.8" height="23.8" fill="#f23645"/>
<path d="M580.6 320.0V346.2" stroke="#089981" stroke-width="1"/><rect x="578.7" y="321.0" width="3.8" height="21.5" fill="#089981"/>
<path d="M585.4 317.0V327.5" stroke="#0b7d6a" stroke-width="1"/><rect x="583.5" y="317.5" width="3.8" height="1.5" fill="#0b7d6a"/>
<path d="M590.3 318.7V353.5" stroke="#f23645" stroke-width="1"/><rect x="588.4" y="321.0" width="3.8" height="27.0" fill="#f23645"/>
<path d="M595.1 339.5V348.0" stroke="#089981" stroke-width="1"/><rect x="593.2" y="342.5" width="3.8" height="4.5" fill="#089981"/>
<path d="M599.9 336.2V348.0" stroke="#f23645" stroke-width="1"/><rect x="598.0" y="342.5" width="3.8" height="1.2" fill="#f23645"/>
<path d="M604.8 322.0V348.5" stroke="#089981" stroke-width="1"/><rect x="602.9" y="323.0" width="3.8" height="22.0" fill="#089981"/>
<path d="M609.6 308.7V325.0" stroke="#089981" stroke-width="1"/><rect x="607.7" y="318.0" width="3.8" height="6.0" fill="#089981"/>
<path d="M614.4 305.5V332.5" stroke="#089981" stroke-width="1"/><rect x="612.5" y="308.0" width="3.8" height="10.7" fill="#089981"/>
<path d="M619.2 296.0V317.5" stroke="#f23645" stroke-width="1"/><rect x="617.3" y="308.0" width="3.8" height="1.2" fill="#f23645"/>
<path d="M624.1 300.0V313.7" stroke="#089981" stroke-width="1"/><rect x="622.2" y="306.0" width="3.8" height="2.5" fill="#089981"/>
<path d="M628.9 300.0V311.0" stroke="#089981" stroke-width="1"/><rect x="627.0" y="306.5" width="3.8" height="1.7" fill="#089981"/>
<path d="M633.7 283.0V312.5" stroke="#089981" stroke-width="1"/><rect x="631.8" y="284.0" width="3.8" height="24.7" fill="#089981"/>
<path d="M638.6 253.7V290.0" stroke="#089981" stroke-width="1"/><rect x="636.7" y="266.0" width="3.8" height="19.5" fill="#089981"/>
<path d="M643.4 263.7V277.5" stroke="#f23645" stroke-width="1"/><rect x="641.5" y="268.0" width="3.8" height="4.0" fill="#f23645"/>
<path d="M648.2 270.0V285.0" stroke="#f23645" stroke-width="1"/><rect x="646.3" y="271.0" width="3.8" height="11.5" fill="#f23645"/>
<path d="M653.0 264.5V286.5" stroke="#089981" stroke-width="1"/><rect x="651.1" y="278.0" width="3.8" height="7.5" fill="#089981"/>
<path d="M657.9 273.7V288.7" stroke="#f23645" stroke-width="1"/><rect x="656.0" y="277.5" width="3.8" height="3.2" fill="#f23645"/>
<path d="M662.7 262.7V279.0" stroke="#089981" stroke-width="1"/><rect x="660.8" y="263.7" width="3.8" height="14.3" fill="#089981"/>
<path d="M667.5 246.0V264.5" stroke="#089981" stroke-width="1"/><rect x="665.6" y="251.0" width="3.8" height="12.7" fill="#089981"/>
<path d="M672.4 247.5V258.0" stroke="#f23645" stroke-width="1"/><rect x="670.5" y="251.0" width="3.8" height="6.0" fill="#f23645"/>
<path d="M677.2 252.5V261.2" stroke="#089981" stroke-width="1"/><rect x="675.3" y="258.0" width="3.8" height="1.2" fill="#089981"/>
<path d="M682.0 253.5V259.5" stroke="#089981" stroke-width="1"/><rect x="680.1" y="254.5" width="3.8" height="4.2" fill="#089981"/>
<path d="M686.9 245.0V257.5" stroke="#089981" stroke-width="1"/><rect x="685.0" y="251.0" width="3.8" height="5.7" fill="#089981"/>
<path d="M691.7 240.0V254.5" stroke="#f23645" stroke-width="1"/><rect x="689.8" y="249.7" width="3.8" height="4.0" fill="#f23645"/>
<path d="M696.5 233.7V268.7" stroke="#f23645" stroke-width="1"/><rect x="694.6" y="250.0" width="3.8" height="5.5" fill="#f23645"/>
<path d="M701.4 238.7V259.5" stroke="#089981" stroke-width="1"/><rect x="699.5" y="249.7" width="3.8" height="9.0" fill="#089981"/>
<path d="M706.2 226.5V251.5" stroke="#089981" stroke-width="1"/><rect x="704.3" y="227.5" width="3.8" height="23.0" fill="#089981"/>
<path d="M711.0 196.0V240.0" stroke="#089981" stroke-width="1"/><rect x="709.1" y="200.5" width="3.8" height="30.5" fill="#089981"/>
<path d="M715.8 201.0V218.0" stroke="#089981" stroke-width="1"/><rect x="713.9" y="205.0" width="3.8" height="12.0" fill="#089981"/>
<path d="M720.7 229.0V269.7" stroke="#089981" stroke-width="1"/><rect x="718.8" y="230.0" width="3.8" height="15.5" fill="#089981"/>
<path d="M725.5 211.0V241.0" stroke="#f23645" stroke-width="1"/><rect x="723.6" y="225.0" width="3.8" height="15.0" fill="#f23645"/>
<path d="M730.3 216.0V243.7" stroke="#089981" stroke-width="1"/><rect x="728.4" y="225.0" width="3.8" height="12.5" fill="#089981"/>
<path d="M735.2 217.5V241.5" stroke="#f23645" stroke-width="1"/><rect x="733.3" y="221.0" width="3.8" height="19.5" fill="#f23645"/>
<path d="M740.0 236.0V261.0" stroke="#f23645" stroke-width="1"/><rect x="738.1" y="238.7" width="3.8" height="21.3" fill="#f23645"/>
<path d="M744.8 245.0V265.5" stroke="#f23645" stroke-width="1"/><rect x="742.9" y="258.0" width="3.8" height="5.0" fill="#f23645"/>
<path d="M749.6 262.0V278.7" stroke="#f23645" stroke-width="1"/><rect x="747.8" y="263.0" width="3.8" height="9.5" fill="#f23645"/>
<path d="M754.5 260.0V285.0" stroke="#089981" stroke-width="1"/><rect x="752.6" y="261.0" width="3.8" height="11.5" fill="#089981"/>
<path d="M759.3 262.0V294.5" stroke="#f23645" stroke-width="1"/><rect x="757.4" y="263.0" width="3.8" height="17.5" fill="#f23645"/>
<path d="M764.1 262.5V287.5" stroke="#f23645" stroke-width="1"/><rect x="762.2" y="270.7" width="3.8" height="11.8" fill="#f23645"/>
<path d="M769.0 286.2V308.7" stroke="#f23645" stroke-width="1"/><rect x="767.1" y="295.0" width="3.8" height="7.5" fill="#f23645"/>
<path d="M773.8 276.5V305.0" stroke="#089981" stroke-width="1"/><rect x="771.9" y="277.5" width="3.8" height="24.5" fill="#089981"/>
<path d="M778.6 257.0V276.5" stroke="#089981" stroke-width="1"/><rect x="776.7" y="260.0" width="3.8" height="15.5" fill="#089981"/>
<path d="M783.5 257.5V270.5" stroke="#f23645" stroke-width="1"/><rect x="781.6" y="259.5" width="3.8" height="10.0" fill="#f23645"/>
<path d="M788.3 266.5V280.0" stroke="#f23645" stroke-width="1"/><rect x="786.4" y="267.5" width="3.8" height="10.5" fill="#f23645"/>
<path d="M793.1 275.0V290.0" stroke="#f23645" stroke-width="1"/><rect x="791.2" y="279.5" width="3.8" height="1.5" fill="#f23645"/>
<path d="M798.0 270.0V287.5" stroke="#089981" stroke-width="1"/><rect x="796.1" y="274.5" width="3.8" height="3.5" fill="#089981"/>
<path d="M802.8 272.7V295.5" stroke="#f23645" stroke-width="1"/><rect x="800.9" y="273.7" width="3.8" height="18.8" fill="#f23645"/>
<path d="M807.6 290.7V305.0" stroke="#f23645" stroke-width="1"/><rect x="805.7" y="291.7" width="3.8" height="6.3" fill="#f23645"/>
<path d="M812.4 291.2V300.0" stroke="#089981" stroke-width="1"/><rect x="810.5" y="297.0" width="3.8" height="1.2" fill="#089981"/>
<path d="M817.3 292.7V315.5" stroke="#f23645" stroke-width="1"/><rect x="815.4" y="293.7" width="3.8" height="20.8" fill="#f23645"/>
<path d="M822.1 300.0V313.5" stroke="#f23645" stroke-width="1"/><rect x="820.2" y="309.5" width="3.8" height="3.0" fill="#f23645"/>
<path d="M826.9 309.5V322.5" stroke="#f23645" stroke-width="1"/><rect x="825.0" y="310.5" width="3.8" height="3.2" fill="#f23645"/>
<path d="M831.8 311.2V323.7" stroke="#f23645" stroke-width="1"/><rect x="829.9" y="315.7" width="3.8" height="4.3" fill="#f23645"/>
<path d="M836.6 268.7V324.0" stroke="#089981" stroke-width="1"/><rect x="834.7" y="295.0" width="3.8" height="22.7" fill="#089981"/>
<path d="M841.4 280.0V301.0" stroke="#089981" stroke-width="1"/><rect x="839.5" y="281.0" width="3.8" height="19.0" fill="#089981"/>
<path d="M846.2 276.5V290.5" stroke="#f23645" stroke-width="1"/><rect x="844.4" y="277.5" width="3.8" height="12.0" fill="#f23645"/>
<path d="M851.1 282.7V298.7" stroke="#089981" stroke-width="1"/><rect x="849.2" y="283.7" width="3.8" height="9.3" fill="#089981"/>
<line x1="0" y1="143.6" x2="932" y2="143.6" stroke="#2f59d0" stroke-width="1.7" stroke-opacity="0.9"/>
<line x1="0" y1="170.7" x2="932" y2="170.7" stroke="#2f59d0" stroke-width="1.7" stroke-opacity="0.9"/>
<line x1="0" y1="200.6" x2="932" y2="200.6" stroke="#2f59d0" stroke-width="1.7" stroke-opacity="0.9"/>
<line x1="0" y1="226.9" x2="932" y2="226.9" stroke="#2f59d0" stroke-width="1.7" stroke-opacity="0.9"/>
<line x1="0" y1="249.8" x2="932" y2="249.8" stroke="#2f59d0" stroke-width="1.7" stroke-opacity="0.9"/>
<line x1="0" y1="261.3" x2="932" y2="261.3" stroke="#2f59d0" stroke-width="1.7" stroke-opacity="0.9"/>
<line x1="0" y1="277.4" x2="932" y2="277.4" stroke="#2f59d0" stroke-width="1.7" stroke-opacity="0.9"/>
<line x1="0" y1="323.2" x2="932" y2="323.2" stroke="#2f59d0" stroke-width="1.7" stroke-opacity="0.9"/>
<circle cx="68.6" cy="145" r="3.1" fill="#fff" stroke="#2b44c9" stroke-width="1.9"/>
<circle cx="179.7" cy="212.5" r="3.1" fill="#fff" stroke="#2b44c9" stroke-width="1.9"/>
<circle cx="290.8" cy="189.5" r="3.1" fill="#fff" stroke="#2b44c9" stroke-width="1.9"/>
<circle cx="401.9" cy="272.5" r="3.1" fill="#fff" stroke="#2b44c9" stroke-width="1.9"/>
<circle cx="513.0" cy="335.5" r="3.1" fill="#fff" stroke="#2b44c9" stroke-width="1.9"/>
<circle cx="624.1" cy="307.5" r="3.1" fill="#fff" stroke="#2b44c9" stroke-width="1.9"/>
<circle cx="735.2" cy="231" r="3.1" fill="#fff" stroke="#2b44c9" stroke-width="1.9"/>
<circle cx="846.2" cy="283.7" r="3.1" fill="#fff" stroke="#2b44c9" stroke-width="1.9"/>
<line x1="0" y1="383" x2="985" y2="383" stroke="#e0e3eb" stroke-width="1"/>
<rect x="-1.0" y="417.7" width="4" height="10.1" fill="#ff5252"/>
<rect x="3.8" y="417.7" width="4" height="17.6" fill="#ff5252"/>
<rect x="8.7" y="417.7" width="4" height="13.8" fill="#ff5252"/>
<rect x="13.5" y="417.7" width="4" height="8.8" fill="#ff5252"/>
<rect x="18.3" y="417.7" width="4" height="6.3" fill="#ff5252"/>
<rect x="23.1" y="417.7" width="4" height="3.8" fill="#ff5252"/>
<rect x="28.0" y="417.7" width="4" height="3.8" fill="#ff5252"/>
<rect x="32.8" y="417.7" width="4" height="3.3" fill="#ff5252"/>
<rect x="37.6" y="417.7" width="4" height="2.6" fill="#ffcdd2"/>
<rect x="42.5" y="417.7" width="4" height="2.6" fill="#ffcdd2"/>
<rect x="47.3" y="417.7" width="4" height="1.8" fill="#ffcdd2"/>
<rect x="52.1" y="414.0" width="4" height="3.7" fill="#26a69a"/>
<rect x="57.0" y="411.0" width="4" height="6.7" fill="#26a69a"/>
<rect x="61.8" y="409.8" width="4" height="7.9" fill="#26a69a"/>
<rect x="66.6" y="410.2" width="4" height="7.4" fill="#b2dfdb"/>
<rect x="71.5" y="412.8" width="4" height="4.9" fill="#b2dfdb"/>
<rect x="76.3" y="417.7" width="4" height="1.3" fill="#ffcdd2"/>
<rect x="81.1" y="417.7" width="4" height="3.8" fill="#ffcdd2"/>
<rect x="85.9" y="417.7" width="4" height="6.3" fill="#ff5252"/>
<rect x="90.8" y="417.7" width="4" height="7.6" fill="#ff5252"/>
<rect x="95.6" y="417.7" width="4" height="6.3" fill="#ff5252"/>
<rect x="100.4" y="417.7" width="4" height="5.1" fill="#ffcdd2"/>
<rect x="105.3" y="417.7" width="4" height="6.3" fill="#ff5252"/>
<rect x="110.1" y="415.2" width="4" height="2.4" fill="#26a69a"/>
<rect x="114.9" y="412.0" width="4" height="5.7" fill="#26a69a"/>
<rect x="119.8" y="409.8" width="4" height="7.9" fill="#26a69a"/>
<rect x="124.6" y="409.0" width="4" height="8.7" fill="#26a69a"/>
<rect x="129.4" y="412.0" width="4" height="5.7" fill="#b2dfdb"/>
<rect x="134.2" y="415.2" width="4" height="2.4" fill="#b2dfdb"/>
<rect x="139.1" y="417.7" width="4" height="1.3" fill="#ffcdd2"/>
<rect x="143.9" y="417.7" width="4" height="7.6" fill="#ff5252"/>
<rect x="148.7" y="417.7" width="4" height="6.3" fill="#ff5252"/>
<rect x="153.6" y="417.7" width="4" height="7.6" fill="#ff5252"/>
<rect x="158.4" y="417.7" width="4" height="6.3" fill="#ffcdd2"/>
<rect x="163.2" y="417.7" width="4" height="6.3" fill="#ffcdd2"/>
<rect x="168.1" y="417.7" width="4" height="5.1" fill="#ffcdd2"/>
<rect x="172.9" y="417.7" width="4" height="3.8" fill="#ffcdd2"/>
<rect x="177.7" y="416.8" width="4" height="0.9" fill="#26a69a"/>
<rect x="182.5" y="417.7" width="4" height="5.1" fill="#ff5252"/>
<rect x="187.4" y="417.7" width="4" height="9.3" fill="#ff5252"/>
<rect x="192.2" y="417.7" width="4" height="8.8" fill="#ffcdd2"/>
<rect x="197.0" y="417.7" width="4" height="9.3" fill="#ff5252"/>
<rect x="201.9" y="417.7" width="4" height="6.3" fill="#ffcdd2"/>
<rect x="206.7" y="417.7" width="4" height="3.8" fill="#ffcdd2"/>
<rect x="211.5" y="417.7" width="4" height="1.8" fill="#ff5252"/>
<rect x="216.3" y="413.5" width="4" height="4.2" fill="#26a69a"/>
<rect x="221.2" y="411.5" width="4" height="6.2" fill="#26a69a"/>
<rect x="226.0" y="404.5" width="4" height="13.2" fill="#26a69a"/>
<rect x="230.8" y="406.0" width="4" height="11.7" fill="#b2dfdb"/>
<rect x="235.7" y="407.0" width="4" height="10.7" fill="#b2dfdb"/>
<rect x="240.5" y="409.0" width="4" height="8.7" fill="#b2dfdb"/>
<rect x="245.3" y="407.8" width="4" height="9.9" fill="#26a69a"/>
<rect x="250.2" y="401.0" width="4" height="16.7" fill="#26a69a"/>
<rect x="255.0" y="400.2" width="4" height="17.4" fill="#26a69a"/>
<rect x="259.8" y="405.2" width="4" height="12.4" fill="#b2dfdb"/>
<rect x="264.6" y="412.8" width="4" height="4.9" fill="#b2dfdb"/>
<rect x="269.5" y="412.8" width="4" height="4.9" fill="#26a69a"/>
<rect x="274.3" y="415.2" width="4" height="2.4" fill="#b2dfdb"/>
<rect x="279.1" y="416.5" width="4" height="1.2" fill="#b2dfdb"/>
<rect x="284.0" y="417.0" width="4" height="0.8" fill="#b2dfdb"/>
<rect x="288.8" y="416.5" width="4" height="1.2" fill="#26a69a"/>
<rect x="293.6" y="416.0" width="4" height="1.7" fill="#26a69a"/>
<rect x="298.5" y="417.7" width="4" height="1.3" fill="#ff5252"/>
<rect x="303.3" y="417.7" width="4" height="8.8" fill="#ff5252"/>
<rect x="308.1" y="417.7" width="4" height="12.6" fill="#ff5252"/>
<rect x="312.9" y="417.7" width="4" height="13.8" fill="#ff5252"/>
<rect x="317.8" y="417.7" width="4" height="11.3" fill="#ffcdd2"/>
<rect x="322.6" y="417.7" width="4" height="8.8" fill="#ffcdd2"/>
<rect x="327.4" y="417.7" width="4" height="10.1" fill="#ff5252"/>
<rect x="332.3" y="417.7" width="4" height="8.8" fill="#ffcdd2"/>
<rect x="337.1" y="417.7" width="4" height="9.3" fill="#ff5252"/>
<rect x="341.9" y="417.7" width="4" height="8.8" fill="#ffcdd2"/>
<rect x="346.8" y="417.7" width="4" height="11.3" fill="#ff5252"/>
<rect x="351.6" y="417.7" width="4" height="7.6" fill="#ffcdd2"/>
<rect x="356.4" y="417.7" width="4" height="6.3" fill="#ffcdd2"/>
<rect x="361.2" y="417.7" width="4" height="5.1" fill="#ffcdd2"/>
<rect x="366.1" y="417.7" width="4" height="1.3" fill="#ffcdd2"/>
<rect x="370.9" y="415.2" width="4" height="2.4" fill="#26a69a"/>
<rect x="375.7" y="412.0" width="4" height="5.7" fill="#26a69a"/>
<rect x="380.6" y="412.0" width="4" height="5.7" fill="#26a69a"/>
<rect x="385.4" y="412.8" width="4" height="4.9" fill="#b2dfdb"/>
<rect x="390.2" y="412.8" width="4" height="4.9" fill="#26a69a"/>
<rect x="395.1" y="409.8" width="4" height="7.9" fill="#26a69a"/>
<rect x="399.9" y="408.2" width="4" height="9.4" fill="#26a69a"/>
<rect x="404.7" y="408.2" width="4" height="9.4" fill="#26a69a"/>
<rect x="409.6" y="409.0" width="4" height="8.7" fill="#b2dfdb"/>
<rect x="414.4" y="410.2" width="4" height="7.4" fill="#b2dfdb"/>
<rect x="419.2" y="412.0" width="4" height="5.7" fill="#b2dfdb"/>
<rect x="424.0" y="411.0" width="4" height="6.7" fill="#26a69a"/>
<rect x="428.9" y="412.8" width="4" height="4.9" fill="#b2dfdb"/>
<rect x="433.7" y="414.5" width="4" height="3.2" fill="#b2dfdb"/>
<rect x="438.5" y="412.8" width="4" height="4.9" fill="#26a69a"/>
<rect x="443.4" y="411.5" width="4" height="6.2" fill="#26a69a"/>
<rect x="448.2" y="411.0" width="4" height="6.7" fill="#26a69a"/>
<rect x="453.0" y="412.0" width="4" height="5.7" fill="#b2dfdb"/>
<rect x="457.9" y="414.5" width="4" height="3.2" fill="#b2dfdb"/>
<rect x="462.7" y="416.0" width="4" height="1.7" fill="#b2dfdb"/>
<rect x="467.5" y="417.7" width="4" height="1.3" fill="#ff5252"/>
<rect x="472.3" y="417.7" width="4" height="3.3" fill="#ff5252"/>
<rect x="477.2" y="417.7" width="4" height="7.6" fill="#ff5252"/>
<rect x="482.0" y="417.7" width="4" height="10.1" fill="#ff5252"/>
<rect x="486.8" y="417.7" width="4" height="11.3" fill="#ff5252"/>
<rect x="491.7" y="417.7" width="4" height="11.8" fill="#ff5252"/>
<rect x="496.5" y="417.7" width="4" height="8.8" fill="#ffcdd2"/>
<rect x="501.3" y="417.7" width="4" height="11.3" fill="#ff5252"/>
<rect x="506.2" y="417.7" width="4" height="12.1" fill="#ff5252"/>
<rect x="511.0" y="417.7" width="4" height="7.6" fill="#ffcdd2"/>
<rect x="515.8" y="417.7" width="4" height="7.6" fill="#ffcdd2"/>
<rect x="520.6" y="417.7" width="4" height="2.6" fill="#ffcdd2"/>
<rect x="525.5" y="417.7" width="4" height="0.8" fill="#ffcdd2"/>
<rect x="530.3" y="414.5" width="4" height="3.2" fill="#26a69a"/>
<rect x="535.1" y="410.2" width="4" height="7.4" fill="#26a69a"/>
<rect x="540.0" y="409.8" width="4" height="7.9" fill="#26a69a"/>
<rect x="544.8" y="410.2" width="4" height="7.4" fill="#b2dfdb"/>
<rect x="549.6" y="414.5" width="4" height="3.2" fill="#b2dfdb"/>
<rect x="554.5" y="417.7" width="4" height="0.8" fill="#ffcdd2"/>
<rect x="559.3" y="416.0" width="4" height="1.7" fill="#26a69a"/>
<rect x="564.1" y="417.0" width="4" height="0.8" fill="#b2dfdb"/>
<rect x="568.9" y="416.0" width="4" height="1.7" fill="#26a69a"/>
<rect x="573.8" y="417.7" width="4" height="1.3" fill="#ff5252"/>
<rect x="578.6" y="417.2" width="4" height="0.8" fill="#b2dfdb"/>
<rect x="583.4" y="416.5" width="4" height="1.2" fill="#26a69a"/>
<rect x="588.3" y="417.7" width="4" height="1.8" fill="#ff5252"/>
<rect x="593.1" y="417.7" width="4" height="1.8" fill="#ff5252"/>
<rect x="597.9" y="417.7" width="4" height="0.8" fill="#ffcdd2"/>
<rect x="602.8" y="416.5" width="4" height="1.2" fill="#26a69a"/>
<rect x="607.6" y="415.2" width="4" height="2.4" fill="#26a69a"/>
<rect x="612.4" y="412.8" width="4" height="4.9" fill="#26a69a"/>
<rect x="617.2" y="412.8" width="4" height="4.9" fill="#26a69a"/>
<rect x="622.1" y="412.0" width="4" height="5.7" fill="#26a69a"/>
<rect x="626.9" y="414.0" width="4" height="3.7" fill="#b2dfdb"/>
<rect x="631.7" y="410.2" width="4" height="7.4" fill="#26a69a"/>
<rect x="636.6" y="409.0" width="4" height="8.7" fill="#26a69a"/>
<rect x="641.4" y="410.2" width="4" height="7.4" fill="#b2dfdb"/>
<rect x="646.2" y="413.5" width="4" height="4.2" fill="#b2dfdb"/>
<rect x="651.0" y="414.0" width="4" height="3.7" fill="#b2dfdb"/>
<rect x="655.9" y="416.0" width="4" height="1.7" fill="#b2dfdb"/>
<rect x="660.7" y="415.2" width="4" height="2.4" fill="#26a69a"/>
<rect x="665.5" y="414.0" width="4" height="3.7" fill="#26a69a"/>
<rect x="670.4" y="415.2" width="4" height="2.4" fill="#b2dfdb"/>
<rect x="675.2" y="416.5" width="4" height="1.2" fill="#b2dfdb"/>
<rect x="680.0" y="417.0" width="4" height="0.8" fill="#b2dfdb"/>
<rect x="684.9" y="417.0" width="4" height="0.8" fill="#b2dfdb"/>
<rect x="689.7" y="417.7" width="4" height="0.8" fill="#ff5252"/>
<rect x="694.5" y="417.7" width="4" height="1.8" fill="#ff5252"/>
<rect x="699.4" y="417.7" width="4" height="0.8" fill="#ffcdd2"/>
<rect x="704.2" y="416.5" width="4" height="1.2" fill="#26a69a"/>
<rect x="709.0" y="411.5" width="4" height="6.2" fill="#26a69a"/>
<rect x="713.8" y="411.5" width="4" height="6.2" fill="#26a69a"/>
<rect x="718.7" y="416.5" width="4" height="1.2" fill="#b2dfdb"/>
<rect x="723.5" y="417.7" width="4" height="3.1" fill="#ff5252"/>
<rect x="728.3" y="417.7" width="4" height="3.1" fill="#ff5252"/>
<rect x="733.2" y="417.7" width="4" height="5.1" fill="#ff5252"/>
<rect x="738.0" y="417.7" width="4" height="8.8" fill="#ff5252"/>
<rect x="742.8" y="417.7" width="4" height="10.1" fill="#ff5252"/>
<rect x="747.6" y="417.7" width="4" height="11.3" fill="#ff5252"/>
<rect x="752.5" y="417.7" width="4" height="7.6" fill="#ffcdd2"/>
<rect x="757.3" y="417.7" width="4" height="9.3" fill="#ff5252"/>
<rect x="762.1" y="417.7" width="4" height="7.6" fill="#ffcdd2"/>
<rect x="767.0" y="417.7" width="4" height="10.1" fill="#ff5252"/>
<rect x="771.8" y="417.7" width="4" height="3.8" fill="#ffcdd2"/>
<rect x="776.6" y="417.7" width="4" height="1.8" fill="#ffcdd2"/>
<rect x="781.5" y="417.2" width="4" height="0.8" fill="#b2dfdb"/>
<rect x="786.3" y="417.2" width="4" height="0.8" fill="#b2dfdb"/>
<rect x="791.1" y="417.0" width="4" height="0.8" fill="#b2dfdb"/>
<rect x="796.0" y="417.0" width="4" height="0.8" fill="#26a69a"/>
<rect x="800.8" y="417.7" width="4" height="1.3" fill="#ff5252"/>
<rect x="805.6" y="417.7" width="4" height="2.1" fill="#ff5252"/>
<rect x="810.4" y="417.7" width="4" height="1.3" fill="#ffcdd2"/>
<rect x="815.3" y="417.7" width="4" height="4.3" fill="#ff5252"/>
<rect x="820.1" y="417.7" width="4" height="2.6" fill="#ffcdd2"/>
<rect x="824.9" y="417.7" width="4" height="2.6" fill="#ffcdd2"/>
<rect x="829.8" y="417.7" width="4" height="1.8" fill="#ffcdd2"/>
<rect x="834.6" y="416.5" width="4" height="1.2" fill="#26a69a"/>
<rect x="839.4" y="413.5" width="4" height="4.2" fill="#26a69a"/>
<rect x="844.2" y="412.8" width="4" height="4.9" fill="#26a69a"/>
<rect x="849.1" y="412.0" width="4" height="5.7" fill="#26a69a"/>
<line x1="854.1" y1="417.7" x2="932" y2="417.7" stroke="#b2b5be" stroke-width="1" stroke-dasharray="2 3" opacity="0.7"/>
<path d="M0.0 389.0C1.2 390.0 5.0 393.0 7.5 395.2C10.0 397.5 12.5 400.5 15.0 402.8C17.5 405.0 20.0 406.9 22.5 409.0C25.0 411.1 27.5 413.6 30.0 415.2C32.5 416.9 35.0 418.0 37.5 419.0C40.0 420.0 42.5 421.3 45.0 421.5C47.5 421.7 49.6 421.1 52.5 420.2C55.4 419.4 59.2 417.5 62.5 416.5C65.8 415.5 69.6 414.6 72.5 414.5C75.4 414.4 77.5 415.3 80.0 416.0C82.5 416.7 85.0 417.6 87.5 418.5C90.0 419.4 92.5 420.5 95.0 421.5C97.5 422.5 100.0 423.9 102.5 424.5C105.0 425.1 107.5 425.5 110.0 425.2C112.5 425.0 115.0 423.8 117.5 422.8C120.0 421.7 122.5 420.1 125.0 419.0C127.5 417.9 130.0 416.4 132.5 416.0C135.0 415.6 137.5 416.0 140.0 416.5C142.5 417.0 145.0 417.8 147.5 419.0C150.0 420.2 152.5 422.2 155.0 423.5C157.5 424.8 159.6 426.1 162.5 427.0C165.4 427.9 169.2 428.7 172.5 429.0C175.8 429.3 179.6 428.6 182.5 429.0C185.4 429.4 187.1 430.5 190.0 431.5C192.9 432.5 196.7 434.3 200.0 435.2C203.3 436.2 207.1 437.0 210.0 437.0C212.9 437.0 215.0 436.2 217.5 435.2C220.0 434.3 222.1 433.0 225.0 431.5C227.9 430.0 232.1 428.2 235.0 426.5C237.9 424.8 240.0 423.2 242.5 421.5C245.0 419.8 247.8 418.0 250.0 416.5C252.2 415.0 253.8 413.8 256.0 412.8C258.2 411.7 261.0 411.0 263.5 410.2C266.0 409.5 268.1 409.0 271.0 408.5C273.9 408.0 277.7 407.6 281.0 407.2C284.3 406.9 288.1 406.6 291.0 406.5C293.9 406.4 296.0 406.1 298.5 406.5C301.0 406.9 303.5 407.8 306.0 409.0C308.5 410.2 311.0 412.3 313.5 414.0C316.0 415.7 318.1 417.3 321.0 419.0C323.9 420.7 327.7 422.4 331.0 424.0C334.3 425.6 337.7 427.0 341.0 428.5C344.3 430.0 347.7 431.6 351.0 432.8C354.3 433.9 358.1 434.8 361.0 435.2C363.9 435.7 366.0 435.5 368.5 435.2C371.0 435.0 373.1 434.6 376.0 434.0C378.9 433.4 382.7 432.4 386.0 431.5C389.3 430.6 392.7 429.7 396.0 428.5C399.3 427.3 402.7 425.8 406.0 424.5C409.3 423.2 412.7 422.1 416.0 421.0C419.3 419.9 422.7 418.7 426.0 417.8C429.3 416.8 432.7 416.1 436.0 415.2C439.3 414.4 442.7 413.6 446.0 412.8C449.3 411.9 452.7 410.9 456.0 410.2C459.3 409.6 463.1 409.0 466.0 409.0C468.9 409.0 471.0 409.6 473.5 410.2C476.0 410.9 478.5 411.8 481.0 412.8C483.5 413.7 486.0 414.9 488.5 416.0C491.0 417.1 493.5 418.2 496.0 419.5C498.5 420.8 500.8 422.0 503.5 423.5C506.2 425.0 509.3 427.2 512.0 428.5C514.7 429.8 517.0 430.7 519.5 431.0C522.0 431.3 524.1 431.0 527.0 430.2C529.9 429.5 533.7 427.6 537.0 426.5C540.3 425.4 543.7 424.1 547.0 423.5C550.3 422.9 553.7 422.8 557.0 422.8C560.3 422.7 563.7 423.1 567.0 423.2C570.3 423.4 573.7 423.5 577.0 423.5C580.3 423.5 583.7 423.4 587.0 423.5C590.3 423.6 593.7 424.1 597.0 424.0C600.3 423.9 603.7 423.4 607.0 422.8C610.3 422.1 613.7 421.1 617.0 420.2C620.3 419.4 623.7 418.7 627.0 417.8C630.3 416.8 633.7 415.5 637.0 414.5C640.3 413.5 643.7 412.4 647.0 411.5C650.3 410.6 653.7 409.6 657.0 409.0C660.3 408.4 663.7 408.2 667.0 407.8C670.3 407.3 673.7 406.6 677.0 406.5C680.3 406.4 683.7 406.8 687.0 407.0C690.3 407.2 693.7 407.8 697.0 407.8C700.3 407.7 703.7 407.0 707.0 406.5C710.3 406.0 713.7 404.7 717.0 404.5C720.3 404.3 724.8 404.9 727.0 405.2C729.2 405.6 729.5 406.1 730.0 406.5C730.5 406.9 728.8 407.1 730.0 407.8C731.2 408.4 735.0 409.2 737.5 410.2C740.0 411.3 742.5 412.8 745.0 414.0C747.5 415.2 750.0 416.6 752.5 417.8C755.0 418.9 757.1 420.2 760.0 421.0C762.9 421.8 766.7 422.5 770.0 422.8C773.3 423.0 776.7 422.8 780.0 422.8C783.3 422.8 787.1 422.9 790.0 422.8C792.9 422.6 795.0 421.9 797.5 422.0C800.0 422.1 802.1 423.0 805.0 423.5C807.9 424.0 811.7 424.8 815.0 425.2C818.3 425.8 822.1 426.2 825.0 426.5C827.9 426.8 830.0 427.2 832.5 427.0C835.0 426.8 837.7 425.8 840.0 425.2C842.3 424.7 844.4 424.0 846.2 423.5C848.1 423.0 850.4 422.5 851.2 422.2" fill="none" stroke="#ef8a2c" stroke-width="1.2"/>
<path d="M0.0 397.8C0.8 399.6 3.3 406.3 5.0 409.0C6.7 411.7 8.3 413.0 10.0 414.0C11.7 415.0 13.1 414.8 15.0 415.2C16.9 415.8 19.2 415.3 21.2 417.0C23.3 418.7 25.6 422.4 27.5 425.2C29.4 428.1 30.8 431.9 32.5 434.0C34.2 436.1 36.0 438.0 37.5 437.8C39.0 437.5 39.8 435.0 41.2 432.8C42.7 430.5 44.4 426.7 46.2 424.0C48.1 421.3 50.2 418.6 52.5 416.5C54.8 414.4 57.5 412.8 60.0 411.5C62.5 410.2 65.2 409.2 67.5 409.0C69.8 408.8 71.9 408.8 73.8 410.2C75.6 411.7 76.9 415.9 78.8 417.8C80.6 419.6 82.7 420.5 85.0 421.5C87.3 422.5 90.0 422.5 92.5 424.0C95.0 425.5 97.5 429.4 100.0 430.2C102.5 431.1 105.0 430.5 107.5 429.0C110.0 427.5 112.5 424.0 115.0 421.5C117.5 419.0 120.0 415.9 122.5 414.0C125.0 412.1 127.7 410.3 130.0 410.2C132.3 410.2 134.4 411.6 136.2 413.5C138.1 415.4 139.4 418.9 141.2 421.5C143.1 424.1 145.2 426.7 147.5 429.0C149.8 431.3 152.9 434.2 155.0 435.2C157.1 436.3 157.5 436.1 160.0 435.2C162.5 434.4 166.7 431.4 170.0 430.2C173.3 429.1 177.3 428.1 180.0 428.5C182.7 428.9 184.2 431.0 186.2 432.8C188.3 434.5 190.4 437.1 192.5 439.0C194.6 440.9 196.9 443.4 198.8 444.0C200.6 444.6 202.1 444.0 203.8 442.8C205.4 441.5 207.3 437.3 208.8 436.5C210.2 435.7 211.0 438.6 212.5 437.8C214.0 436.9 215.8 433.8 217.5 431.5C219.2 429.2 220.6 426.5 222.5 424.0C224.4 421.5 226.7 418.0 228.8 416.5C230.8 415.0 232.9 415.7 235.0 415.2C237.1 414.8 239.4 415.0 241.2 414.0C243.1 413.0 244.6 411.1 246.2 409.0C247.9 406.9 249.6 403.6 251.2 401.5C252.9 399.4 254.6 397.2 256.0 396.5C257.4 395.8 258.1 395.8 259.8 397.0C261.4 398.2 264.1 402.9 266.0 404.0C267.9 405.1 268.9 403.3 271.0 403.5C273.1 403.7 276.0 404.7 278.5 405.2C281.0 405.8 283.3 407.0 286.0 407.0C288.7 407.0 292.2 404.7 294.8 405.2C297.2 405.8 298.7 407.5 301.0 410.2C303.3 413.0 306.0 418.3 308.5 421.5C311.0 424.7 313.7 428.2 316.0 429.5C318.3 430.8 320.2 428.7 322.2 429.0C324.3 429.3 326.2 430.7 328.5 431.5C330.8 432.3 333.5 433.0 336.0 434.0C338.5 435.0 341.2 436.5 343.5 437.8C345.8 439.0 347.7 441.0 349.8 441.5C351.8 442.0 353.7 441.0 356.0 441.0C358.3 441.0 361.0 442.7 363.5 441.5C366.0 440.3 368.5 436.2 371.0 434.0C373.5 431.8 376.0 429.8 378.5 428.5C381.0 427.2 383.7 427.2 386.0 426.5C388.3 425.8 390.2 425.8 392.2 424.5C394.3 423.2 396.2 420.5 398.5 419.0C400.8 417.5 403.5 416.3 406.0 415.2C408.5 414.2 411.0 413.3 413.5 412.8C416.0 412.2 418.5 412.1 421.0 412.0C423.5 411.9 426.0 412.2 428.5 412.0C431.0 411.8 433.5 411.7 436.0 411.0C438.5 410.3 441.0 408.7 443.5 407.8C446.0 406.8 448.5 405.5 451.0 405.2C453.5 405.0 456.0 405.6 458.5 406.0C461.0 406.4 463.5 406.6 466.0 407.8C468.5 408.9 471.0 410.7 473.5 412.8C476.0 414.8 478.5 418.0 481.0 420.2C483.5 422.5 486.0 424.8 488.5 426.5C491.0 428.2 493.7 429.0 496.0 430.2C498.3 431.5 500.2 432.6 502.2 434.0C504.3 435.4 506.9 437.9 508.5 438.5C510.1 439.1 510.4 438.0 512.0 437.8C513.6 437.5 516.4 438.3 518.2 437.2C520.1 436.2 521.4 432.7 523.2 431.5C525.1 430.3 527.4 431.9 529.5 430.2C531.6 428.6 533.5 423.7 535.8 421.5C538.0 419.3 541.2 417.6 543.2 417.0C545.3 416.4 546.2 416.7 548.2 417.8C550.3 418.8 553.5 422.8 555.8 423.5C558.0 424.2 559.5 422.3 562.0 422.0C564.5 421.7 568.5 421.2 570.8 421.5C573.0 421.8 573.5 423.9 575.8 424.0C578.0 424.1 581.8 421.8 584.5 422.0C587.2 422.2 589.5 424.7 592.0 425.2C594.5 425.8 597.0 426.1 599.5 425.2C602.0 424.4 604.5 421.7 607.0 420.2C609.5 418.8 612.0 417.2 614.5 416.5C617.0 415.8 619.5 416.6 622.0 416.0C624.5 415.4 627.0 414.4 629.5 412.8C632.0 411.1 634.5 407.4 637.0 406.0C639.5 404.6 642.0 404.3 644.5 404.5C647.0 404.7 649.5 406.3 652.0 407.0C654.5 407.7 657.0 408.9 659.5 408.5C662.0 408.1 664.5 405.0 667.0 404.5C669.5 404.0 671.6 404.8 674.5 405.2C677.4 405.7 681.6 406.6 684.5 407.0C687.4 407.4 689.5 407.4 692.0 407.8C694.5 408.1 697.2 409.6 699.5 409.0C701.8 408.4 703.7 405.8 705.8 404.0C707.8 402.2 710.1 399.2 712.0 398.5C713.9 397.8 714.9 398.2 717.0 399.5C719.1 400.8 722.3 404.9 724.5 406.5C726.7 408.1 729.1 408.4 730.0 409.0C730.9 409.6 728.8 409.0 730.0 410.2C731.2 411.5 735.0 414.6 737.5 416.5C740.0 418.4 742.5 420.0 745.0 421.5C747.5 423.0 750.0 424.4 752.5 425.2C755.0 426.1 757.5 425.5 760.0 426.5C762.5 427.5 765.2 431.1 767.5 431.5C769.8 431.9 771.7 430.3 773.8 429.0C775.8 427.7 777.7 424.5 780.0 423.5C782.3 422.5 785.0 423.0 787.5 422.8C790.0 422.5 792.5 421.8 795.0 422.0C797.5 422.2 800.0 423.2 802.5 424.0C805.0 424.8 807.7 425.8 810.0 426.5C812.3 427.2 814.0 428.1 816.2 428.5C818.5 428.9 821.2 428.8 823.8 429.0C826.2 429.2 829.2 430.1 831.2 429.5C833.3 428.9 834.6 426.8 836.2 425.2C837.9 423.7 839.6 421.5 841.2 420.2C842.9 419.0 844.6 418.3 846.2 417.8C847.9 417.2 850.4 417.1 851.2 417.0" fill="none" stroke="#4069d8" stroke-width="1.2"/>
</g>
<g fill="#fff" fill-opacity="0.55">
<rect x="4" y="106" width="192" height="21"/>
<rect x="4" y="128" width="102" height="21"/>
<rect x="4" y="150" width="527" height="22"/>
<rect x="4" y="386" width="188" height="21"/>
</g>
<rect x="932" y="40" width="52" height="437" fill="#fff"/>
<line x1="932" y1="383" x2="985" y2="383" stroke="#e0e3eb" stroke-width="1"/>
<text x="940.5" y="87.9" font-size="11" fill="#131722" textLength="27.0" lengthAdjust="spacingAndGlyphs">42.00</text>
<text x="940.5" y="317.4" font-size="11" fill="#131722" textLength="27.0" lengthAdjust="spacingAndGlyphs">26.00</text>
<text x="940.5" y="346.4" font-size="11" fill="#131722" textLength="27.0" lengthAdjust="spacingAndGlyphs">24.50</text>
<text x="940.5" y="373.4" font-size="11" fill="#131722" textLength="27.0" lengthAdjust="spacingAndGlyphs">23.10</text>
<text x="940.5" y="395.4" font-size="11" fill="#131722" textLength="21.0" lengthAdjust="spacingAndGlyphs">2.00</text>
<rect x="932" y="103.5" width="39" height="16.0" rx="0" fill="#2962ff"/>
<text x="940.0" y="115.4" font-size="11" fill="#fff" font-weight="bold" textLength="27.3" lengthAdjust="spacingAndGlyphs">37.08</text>
<rect x="932" y="119" width="39" height="16.0" rx="0" fill="#2962ff"/>
<text x="940.0" y="130.9" font-size="11" fill="#fff" font-weight="bold" textLength="27.3" lengthAdjust="spacingAndGlyphs">35.04</text>
<rect x="932" y="134.5" width="39" height="16.0" rx="0" fill="#2962ff"/>
<text x="940.0" y="146.4" font-size="11" fill="#fff" font-weight="bold" textLength="27.3" lengthAdjust="spacingAndGlyphs">32.92</text>
<rect x="932" y="150" width="39" height="16.0" rx="0" fill="#2962ff"/>
<text x="940.0" y="161.9" font-size="11" fill="#fff" font-weight="bold" textLength="27.3" lengthAdjust="spacingAndGlyphs">31.16</text>
<rect x="932" y="165.5" width="39" height="16.5" rx="0" fill="#2962ff"/>
<text x="940.0" y="177.6" font-size="11" fill="#fff" font-weight="bold" textLength="27.3" lengthAdjust="spacingAndGlyphs">29.70</text>
<rect x="932" y="181.5" width="39" height="16.0" rx="0" fill="#2962ff"/>
<text x="940.0" y="193.4" font-size="11" fill="#fff" font-weight="bold" textLength="27.3" lengthAdjust="spacingAndGlyphs">29.00</text>
<rect x="932" y="197" width="39" height="16.19999999999999" rx="0" fill="#9c27b0"/>
<text x="940.0" y="209.0" font-size="11" fill="#fff" font-weight="bold" textLength="27.3" lengthAdjust="spacingAndGlyphs">28.21</text>
<rect x="932" y="212.7" width="39" height="15.800000000000011" rx="0" fill="#2962ff"/>
<text x="940.0" y="224.5" font-size="11" fill="#fff" font-weight="bold" textLength="27.3" lengthAdjust="spacingAndGlyphs">28.04</text>
<rect x="932" y="228" width="39" height="16.5" rx="0" fill="#2f7ff5"/>
<text x="940.0" y="240.1" font-size="11" fill="#fff" font-weight="bold" textLength="27.3" lengthAdjust="spacingAndGlyphs">27.90</text>
<rect x="932" y="244" width="39" height="16.5" rx="0" fill="#ffeb3b"/>
<text x="940.0" y="256.1" font-size="11" fill="#131722" textLength="27.3" lengthAdjust="spacingAndGlyphs">27.88</text>
<rect x="932" y="260" width="39" height="16.0" rx="0" fill="#76f53a"/>
<text x="940.0" y="271.9" font-size="11" fill="#131722" textLength="27.3" lengthAdjust="spacingAndGlyphs">27.70</text>
<rect x="932" y="275.5" width="39" height="16.0" rx="0" fill="#089981"/>
<text x="940.0" y="287.4" font-size="11" fill="#fff" font-weight="bold" textLength="27.3" lengthAdjust="spacingAndGlyphs">27.68</text>
<rect x="932" y="291" width="39" height="16.5" rx="0" fill="#e81515"/>
<text x="940.0" y="303.1" font-size="11" fill="#fff" font-weight="bold" textLength="27.3" lengthAdjust="spacingAndGlyphs">27.47</text>
<rect x="932" y="315.5" width="39" height="16.0" rx="1.8" fill="#2962ff"/>
<text x="940.0" y="327.4" font-size="11" fill="#fff" font-weight="bold" textLength="27.3" lengthAdjust="spacingAndGlyphs">25.48</text>
<rect x="932" y="350" width="43" height="16.80000000000001" rx="1.8" fill="#26a69a"/>
<text x="940.0" y="362.3" font-size="11" fill="#fff" font-weight="bold" textLength="31.0" lengthAdjust="spacingAndGlyphs">9.17M</text>
<rect x="932" y="405" width="34" height="16.19999999999999" rx="0" fill="#26a69a"/>
<text x="940.0" y="417.0" font-size="11" fill="#fff" font-weight="bold" textLength="21.5" lengthAdjust="spacingAndGlyphs">0.42</text>
<rect x="932" y="420.7" width="34" height="15.800000000000011" rx="0" fill="#2962ff"/>
<text x="940.0" y="432.5" font-size="11" fill="#fff" font-weight="bold" textLength="21.5" lengthAdjust="spacingAndGlyphs">0.04</text>
<rect x="932" y="436" width="39" height="15.0" rx="0" fill="#f57c00"/>
<text x="938.5" y="447.4" font-size="11" fill="#fff" font-weight="bold" textLength="28.0" lengthAdjust="spacingAndGlyphs">−0.38</text>
<rect x="937.5" y="43.5" width="42" height="22" rx="4" fill="#fff" stroke="#ececec" stroke-width="1"/>
<text x="939.0" y="58.9" font-size="11" fill="#131722" textLength="18.0" lengthAdjust="spacingAndGlyphs">SAR</text>
<path d="M970.5 53.5l2.5 2.5 2.5-2.5" fill="none" stroke="#131722" stroke-width="1.4" stroke-linecap="round" stroke-linejoin="round"/>
<g fill="none" stroke="#3c3f47" stroke-width="1.3"><path d="M951.1 464.2l3.4-5.9h6.8l3.4 5.9-3.4 5.9h-6.8z"/><circle cx="957.9" cy="464.2" r="2"/></g>
<text x="25.7" y="467.0" font-size="11.5" fill="#131722" textLength="22.0" lengthAdjust="spacingAndGlyphs">يوليو</text>
<text x="272.3" y="467.0" font-size="11.5" fill="#131722" textLength="22.0" lengthAdjust="spacingAndGlyphs">يوليو</text>
<text x="518.3" y="467.0" font-size="11.5" fill="#131722" textLength="22.0" lengthAdjust="spacingAndGlyphs">يوليو</text>
<text x="769.7" y="467.0" font-size="11.5" fill="#131722" textLength="22.0" lengthAdjust="spacingAndGlyphs">يوليو</text>
<text x="152.0" y="468.4" font-size="11.5" fill="#131722" textLength="25.0" lengthAdjust="spacingAndGlyphs" stroke="#131722" stroke-width="0.5">2023</text>
<text x="404.5" y="468.4" font-size="11.5" fill="#131722" textLength="25.0" lengthAdjust="spacingAndGlyphs" stroke="#131722" stroke-width="0.5">2024</text>
<text x="645.5" y="468.4" font-size="11.5" fill="#131722" textLength="25.0" lengthAdjust="spacingAndGlyphs" stroke="#131722" stroke-width="0.5">2025</text>
<circle cx="58.8" cy="370.5" r="10.400" fill="#fff"/>
<circle cx="58.8" cy="370.5" r="8.900" fill="#fff" stroke="#4a6fe0" stroke-width="1.3"/>
<text x="55.7" y="374.4" font-size="10.5" fill="#3f63d4" font-weight="bold" textLength="6.3" lengthAdjust="spacingAndGlyphs">D</text>
<circle cx="223.4" cy="370.5" r="10.400" fill="#fff"/>
<circle cx="223.4" cy="370.5" r="8.900" fill="#fff" stroke="#4a6fe0" stroke-width="1.3"/>
<text x="220.3" y="374.4" font-size="10.5" fill="#3f63d4" font-weight="bold" textLength="6.3" lengthAdjust="spacingAndGlyphs">D</text>
<circle cx="304.7" cy="370.5" r="10.400" fill="#fff"/>
<circle cx="304.7" cy="370.5" r="8.900" fill="#fff" stroke="#4a6fe0" stroke-width="1.3"/>
<text x="301.6" y="374.4" font-size="10.5" fill="#3f63d4" font-weight="bold" textLength="6.3" lengthAdjust="spacingAndGlyphs">D</text>
<path d="M363.4 361.40000000000003l8.400 5v10.800q0 2.100-2.100 2.100h-12.600q-2.100 0-2.100-2.100v-10.800z" stroke="#fff" stroke-width="3.6" stroke-linejoin="round" fill="#fff"/>
<path d="M363.4 361.40000000000003l8.400 5v10.800q0 2.100-2.100 2.100h-12.600q-2.100 0-2.100-2.100v-10.800z" fill="#fff" stroke="#26a69a" stroke-width="1.3" stroke-linejoin="round"/>
<text x="360.8" y="375.4" font-size="10.5" fill="#26a69a" font-weight="bold" textLength="5.3" lengthAdjust="spacingAndGlyphs">E</text>
<path d="M440.6 380.6l8.400-4.800v-11.600q0-2.100-2.100-2.100h-12.600q-2.100 0-2.100 2.100v11.600z" stroke="#fff" stroke-width="3.6" stroke-linejoin="round" fill="#fff"/>
<path d="M440.6 380.6l8.400-4.800v-11.600q0-2.100-2.100-2.100h-12.600q-2.100 0-2.100 2.100v11.600z" fill="#fff" stroke="#d9475f" stroke-width="1.3" stroke-linejoin="round"/>
<text x="438.0" y="374.5" font-size="10.5" fill="#d9475f" font-weight="bold" textLength="5.3" lengthAdjust="spacingAndGlyphs">E</text>
<circle cx="468.8" cy="370.5" r="10.400" fill="#fff"/>
<circle cx="468.8" cy="370.5" r="8.900" fill="#fff" stroke="#4a6fe0" stroke-width="1.3"/>
<text x="465.7" y="374.4" font-size="10.5" fill="#3f63d4" font-weight="bold" textLength="6.3" lengthAdjust="spacingAndGlyphs">D</text>
<path d="M488.4 380.6l8.400-4.800v-11.600q0-2.100-2.100-2.100h-12.600q-2.100 0-2.100 2.100v11.600z" stroke="#fff" stroke-width="3.6" stroke-linejoin="round" fill="#fff"/>
<path d="M488.4 380.6l8.400-4.800v-11.600q0-2.100-2.100-2.100h-12.600q-2.100 0-2.100 2.100v11.600z" fill="#fff" stroke="#d9475f" stroke-width="1.3" stroke-linejoin="round"/>
<text x="485.8" y="374.5" font-size="10.5" fill="#d9475f" font-weight="bold" textLength="5.3" lengthAdjust="spacingAndGlyphs">E</text>
<circle cx="557.8" cy="370.5" r="10.400" fill="#fff"/>
<circle cx="557.8" cy="370.5" r="8.900" fill="#fff" stroke="#4a6fe0" stroke-width="1.3"/>
<text x="554.7" y="374.4" font-size="10.5" fill="#3f63d4" font-weight="bold" textLength="6.3" lengthAdjust="spacingAndGlyphs">D</text>
<path d="M551.5 361.40000000000003l8.400 5v10.800q0 2.100-2.100 2.100h-12.600q-2.100 0-2.100-2.100v-10.800z" stroke="#fff" stroke-width="3.6" stroke-linejoin="round" fill="#fff"/>
<path d="M551.5 361.40000000000003l8.400 5v10.800q0 2.100-2.100 2.100h-12.600q-2.100 0-2.100-2.100v-10.800z" fill="#fff" stroke="#26a69a" stroke-width="1.3" stroke-linejoin="round"/>
<text x="548.9" y="375.4" font-size="10.5" fill="#26a69a" font-weight="bold" textLength="5.3" lengthAdjust="spacingAndGlyphs">E</text>
<path d="M604.2 361.40000000000003l8.400 5v10.800q0 2.100-2.100 2.100h-12.600q-2.100 0-2.100-2.100v-10.800z" stroke="#fff" stroke-width="3.6" stroke-linejoin="round" fill="#fff"/>
<path d="M604.2 361.40000000000003l8.400 5v10.800q0 2.100-2.100 2.100h-12.600q-2.100 0-2.100-2.100v-10.800z" fill="#fff" stroke="#26a69a" stroke-width="1.3" stroke-linejoin="round"/>
<text x="601.6" y="375.4" font-size="10.5" fill="#26a69a" font-weight="bold" textLength="5.3" lengthAdjust="spacingAndGlyphs">E</text>
<path d="M676.5 361.40000000000003l8.400 5v10.800q0 2.100-2.100 2.100h-12.600q-2.100 0-2.100-2.100v-10.800z" stroke="#fff" stroke-width="3.6" stroke-linejoin="round" fill="#fff"/>
<path d="M676.5 361.40000000000003l8.400 5v10.800q0 2.100-2.100 2.100h-12.600q-2.100 0-2.100-2.100v-10.800z" fill="#fff" stroke="#26a69a" stroke-width="1.3" stroke-linejoin="round"/>
<text x="673.9" y="375.4" font-size="10.5" fill="#26a69a" font-weight="bold" textLength="5.3" lengthAdjust="spacingAndGlyphs">E</text>
<circle cx="723" cy="370.5" r="10.400" fill="#fff"/>
<circle cx="723" cy="370.5" r="8.900" fill="#fff" stroke="#4a6fe0" stroke-width="1.3"/>
<text x="719.9" y="374.4" font-size="10.5" fill="#3f63d4" font-weight="bold" textLength="6.3" lengthAdjust="spacingAndGlyphs">D</text>
<path d="M729.7 380.6l8.400-4.800v-11.600q0-2.100-2.100-2.100h-12.600q-2.100 0-2.100 2.100v11.600z" stroke="#fff" stroke-width="3.6" stroke-linejoin="round" fill="#fff"/>
<path d="M729.7 380.6l8.400-4.800v-11.600q0-2.100-2.100-2.100h-12.600q-2.100 0-2.100 2.100v11.600z" fill="#fff" stroke="#d9475f" stroke-width="1.3" stroke-linejoin="round"/>
<text x="727.1" y="374.5" font-size="10.5" fill="#d9475f" font-weight="bold" textLength="5.3" lengthAdjust="spacingAndGlyphs">E</text>
<circle cx="803.4" cy="370.5" r="10.400" fill="#fff"/>
<circle cx="803.4" cy="370.5" r="8.900" fill="#fff" stroke="#4a6fe0" stroke-width="1.3"/>
<text x="800.3" y="374.4" font-size="10.5" fill="#3f63d4" font-weight="bold" textLength="6.3" lengthAdjust="spacingAndGlyphs">D</text>
<path d="M793 361.40000000000003l8.400 5v10.800q0 2.100-2.100 2.100h-12.600q-2.100 0-2.100-2.100v-10.800z" stroke="#fff" stroke-width="3.6" stroke-linejoin="round" fill="#fff"/>
<path d="M793 361.40000000000003l8.400 5v10.800q0 2.100-2.100 2.100h-12.600q-2.100 0-2.100-2.100v-10.800z" fill="#fff" stroke="#26a69a" stroke-width="1.3" stroke-linejoin="round"/>
<text x="790.4" y="375.4" font-size="10.5" fill="#26a69a" font-weight="bold" textLength="5.3" lengthAdjust="spacingAndGlyphs">E</text>
<circle cx="850.3" cy="370.3" r="8.9" fill="#fff" stroke="#c94fd8" stroke-width="1.2"/>
<rect x="846.2" y="362.3" width="17.700" height="15.700" rx="2.500" fill="#fff" fill-opacity="0.92" stroke="#c94fd8" stroke-width="1.2"/>
<path d="M845.6 368.800h3.800M845.600 372.100h3.800" stroke="#c94fd8" stroke-width="1.1"/>
<text x="853.0" y="374.2" font-size="10.5" fill="#c94fd8" font-weight="bold" textLength="5.8" lengthAdjust="spacingAndGlyphs">E</text>
<rect x="3.5" y="43.5" width="255" height="22" rx="4.5" fill="#fff" stroke="#a9bdd6" stroke-width="1"/>
<circle cx="15.3" cy="54.5" r="6.3" fill="#e9f3f3" stroke="#dfe6ea" stroke-width="0.6"/>
<path d="M11.6 56.6v-2.3q0-1.3 1.4-1.3M15.6 51.3v5.3M15.6 54.4q0-1.4 1.5-1.4t1.5 1.8-1.5 1.8-1.5-1.4" fill="none" stroke="#1f9a9a" stroke-width="1.1" stroke-linecap="round"/>
<text x="28.6" y="60.0" font-size="13" fill="#2a2e39" textLength="42.5" lengthAdjust="spacingAndGlyphs">الرياض</text>
<circle cx="77" cy="55.6" r="1.35" fill="#2a2e39"/>
<text x="84.3" y="60.0" font-size="13" fill="#2a2e39" textLength="35.5" lengthAdjust="spacingAndGlyphs">أسبوع</text>
<text x="121.5" y="60.0" font-size="13" fill="#2a2e39" textLength="5.5" lengthAdjust="spacingAndGlyphs">1</text>
<circle cx="134.4" cy="55.6" r="1.35" fill="#2a2e39"/>
<text x="141.7" y="60.0" font-size="13" fill="#2a2e39" textLength="59.5" lengthAdjust="spacingAndGlyphs">TADAWUL</text>
<path d="M215 50h10.5v9.5h-10.5l2.6-4.75z" fill="#cfcfcf"/>
<circle cx="238.8" cy="55.2" r="1.4" fill="none" stroke="#2a2e39" stroke-width="0.9"/>
<circle cx="243.4" cy="55.2" r="1.4" fill="none" stroke="#2a2e39" stroke-width="0.9"/>
<circle cx="248.0" cy="55.2" r="1.4" fill="none" stroke="#2a2e39" stroke-width="0.9"/>
<text x="260.5" y="59.3" font-size="12" fill="#089981" textLength="22.5" lengthAdjust="spacingAndGlyphs">0.32</text>
<text x="287.5" y="59.3" font-size="12" fill="#089981" textLength="46.5" lengthAdjust="spacingAndGlyphs">(+1.17%)</text>
<text x="340.0" y="59.3" font-size="12" fill="#089981" textLength="29.5" lengthAdjust="spacingAndGlyphs">27.68</text>
<text x="369.8" y="59.3" font-size="12" fill="#2a2e39" textLength="7.0" lengthAdjust="spacingAndGlyphs">C</text>
<text x="383.5" y="59.3" font-size="12" fill="#089981" textLength="29.5" lengthAdjust="spacingAndGlyphs">26.80</text>
<text x="413.3" y="59.3" font-size="12" fill="#2a2e39" textLength="5.7" lengthAdjust="spacingAndGlyphs">L</text>
<text x="425.5" y="59.3" font-size="12" fill="#089981" textLength="29.5" lengthAdjust="spacingAndGlyphs">27.82</text>
<text x="455.3" y="59.3" font-size="12" fill="#2a2e39" textLength="7.7" lengthAdjust="spacingAndGlyphs">H</text>
<text x="469.5" y="59.3" font-size="12" fill="#089981" textLength="29.5" lengthAdjust="spacingAndGlyphs">27.18</text>
<text x="499.3" y="59.3" font-size="12" fill="#2a2e39" textLength="8.0" lengthAdjust="spacingAndGlyphs">O</text>
<rect x="7.5" y="69.7" width="49" height="31" rx="5" fill="#fff" stroke="#f3a2aa" stroke-width="1"/>
<text x="17.5" y="83.4" font-size="11.5" fill="#e0364c" font-weight="bold" textLength="29.5" lengthAdjust="spacingAndGlyphs">27.52</text>
<text x="26.3" y="94.3" font-size="9.5" fill="#e0364c" opacity="0.85" textLength="11.6" lengthAdjust="spacingAndGlyphs">بيع</text>
<text x="65.5" y="88.4" font-size="10" fill="#2a2e39" textLength="16.5" lengthAdjust="spacingAndGlyphs">0.16</text>
<rect x="90.3" y="69.7" width="49.3" height="31" rx="5" fill="#fff" stroke="#9fb4ea" stroke-width="1"/>
<text x="100.5" y="83.4" font-size="11.5" fill="#3f5fd2" font-weight="bold" textLength="29.5" lengthAdjust="spacingAndGlyphs">27.68</text>
<text x="106.1" y="94.3" font-size="9.5" fill="#3f5fd2" opacity="0.85" textLength="17.7" lengthAdjust="spacingAndGlyphs">شراء</text>
<text x="7.5" y="120.2" font-size="12" fill="#b5b7bd" textLength="121.2" lengthAdjust="spacingAndGlyphs">تقاطع المتوسط المتحرك</text>
<text x="132.0" y="120.3" font-size="12" fill="#b5b7bd" textLength="35.0" lengthAdjust="spacingAndGlyphs">50 200</text>
<g fill="none" stroke="#55585f" stroke-width="1.1" stroke-linecap="round"><path d="M177 116.3q7.3-8.5 14.6 0q-7.3 8.5-14.6 0z"/><circle cx="184.3" cy="116.3" r="2.3"/><path d="M179.3 122.3l10-12"/></g>
<text x="7.5" y="143.5" font-size="12" fill="#2a2e39" textLength="52.5" lengthAdjust="spacingAndGlyphs">حجم تداول</text>
<text x="67.5" y="143.3" font-size="12" fill="#26a69a" textLength="33.0" lengthAdjust="spacingAndGlyphs">M9.17</text>
<text x="8.0" y="165.3" font-size="12" fill="#2a2e39" textLength="27.0" lengthAdjust="spacingAndGlyphs" stroke="#2a2e39" stroke-width="0.25">5EMA</text>
<text x="39.5" y="165.3" font-size="12" fill="#2a2e39" textLength="10.5" lengthAdjust="spacingAndGlyphs" stroke="#2a2e39" stroke-width="0.25">by</text>
<text x="55.5" y="165.3" font-size="12" fill="#2a2e39" textLength="41.5" lengthAdjust="spacingAndGlyphs" stroke="#2a2e39" stroke-width="0.25">SelNach</text>
<text x="101.2" y="165.3" font-size="12" fill="#2a2e39" textLength="11.3" lengthAdjust="spacingAndGlyphs" stroke="#2a2e39" stroke-width="0.25">20</text>
<text x="117.5" y="165.3" font-size="12" fill="#2a2e39" textLength="26.2" lengthAdjust="spacingAndGlyphs" stroke="#2a2e39" stroke-width="0.25">close</text>
<text x="149.5" y="165.3" font-size="12" fill="#2a2e39" textLength="11.0" lengthAdjust="spacingAndGlyphs" stroke="#2a2e39" stroke-width="0.25">30</text>
<text x="166.2" y="165.3" font-size="12" fill="#2a2e39" textLength="25.8" lengthAdjust="spacingAndGlyphs" stroke="#2a2e39" stroke-width="0.25">close</text>
<text x="197.5" y="165.3" font-size="12" fill="#2a2e39" textLength="11.0" lengthAdjust="spacingAndGlyphs" stroke="#2a2e39" stroke-width="0.25">50</text>
<text x="213.0" y="165.3" font-size="12" fill="#2a2e39" textLength="26.5" lengthAdjust="spacingAndGlyphs" stroke="#2a2e39" stroke-width="0.25">close</text>
<text x="244.5" y="165.3" font-size="12" fill="#2a2e39" textLength="17.5" lengthAdjust="spacingAndGlyphs" stroke="#2a2e39" stroke-width="0.25">100</text>
<text x="267.2" y="165.3" font-size="12" fill="#2a2e39" textLength="26.3" lengthAdjust="spacingAndGlyphs" stroke="#2a2e39" stroke-width="0.25">close</text>
<text x="298.5" y="165.3" font-size="12" fill="#2a2e39" textLength="17.5" lengthAdjust="spacingAndGlyphs" stroke="#2a2e39" stroke-width="0.25">200</text>
<text x="321.5" y="165.3" font-size="12" fill="#2a2e39" textLength="26.5" lengthAdjust="spacingAndGlyphs" stroke="#2a2e39" stroke-width="0.25">close</text>
<text x="356.0" y="165.3" font-size="12" fill="#eadf45" textLength="28.7" lengthAdjust="spacingAndGlyphs">27.88</text>
<text x="389.7" y="165.3" font-size="12" fill="#b24cc0" textLength="27.5" lengthAdjust="spacingAndGlyphs">28.21</text>
<text x="424.7" y="165.3" font-size="12" fill="#5a8bea" textLength="28.8" lengthAdjust="spacingAndGlyphs">27.90</text>
<text x="459.7" y="165.3" font-size="12" fill="#8be860" textLength="28.8" lengthAdjust="spacingAndGlyphs">27.70</text>
<text x="495.5" y="165.3" font-size="12" fill="#e23b3b" textLength="27.7" lengthAdjust="spacingAndGlyphs">27.47</text>
<rect x="8" y="175" width="25" height="17.5" rx="3" fill="#fff" fill-opacity="0.8" stroke="#ebebeb" stroke-width="1"/>
<path d="M17.3 185.8l3.2-3.2 3.2 3.2" fill="none" stroke="#2a2e39" stroke-width="1.5" stroke-linecap="round" stroke-linejoin="round"/>
<text x="8.0" y="402.6" font-size="12" fill="#2a2e39" textLength="86.0" lengthAdjust="spacingAndGlyphs">MACD 5 13 close</text>
<text x="103.0" y="402.6" font-size="12" fill="#ef8a2c" textLength="28.0" lengthAdjust="spacingAndGlyphs">−0.38</text>
<text x="136.0" y="402.6" font-size="12" fill="#4069d8" textLength="22.5" lengthAdjust="spacingAndGlyphs">0.04</text>
<text x="165.0" y="402.6" font-size="12" fill="#26a69a" textLength="22.5" lengthAdjust="spacingAndGlyphs">0.42</text>
<g fill="#fff" stroke="#fff" stroke-width="4.5" stroke-linejoin="round" opacity="0.85"><path d="M10.9 423.8h10.4v13.9h-5.2v-8.8h-5.2z"/><circle cx="26" cy="426.3" r="2.45"/><path d="M26.5 437.7l5.9-13.9h5.9l-5.9 13.9z"/></g>
<text x="45.6" y="437.7" font-size="19.4" fill="#fff" font-weight="bold" textLength="112.0" lengthAdjust="spacingAndGlyphs" stroke="#fff" stroke-width="4.5" stroke-linejoin="round" opacity="0.85">TradingView</text>
<g fill="#0f0f0f"><path d="M10.9 423.8h10.4v13.9h-5.2v-8.8h-5.2z"/><circle cx="26" cy="426.3" r="2.45"/><path d="M26.5 437.7l5.9-13.9h5.9l-5.9 13.9z"/></g>
<text x="45.6" y="437.7" font-size="19.4" fill="#0f0f0f" font-weight="bold" textLength="112.0" lengthAdjust="spacingAndGlyphs">TradingView</text>
<rect x="879.8" y="443.3" width="57.3" height="34.2" rx="6" fill="#1d1d1d"/>
<g stroke="#d0d0d0" stroke-width="1.1" fill="none"><path d="M888.5 460.7h6.5M899.5 460.7h6.5"/><circle cx="897.2" cy="460.7" r="2.1"/></g>
<circle cx="922.3" cy="455.3" r="0.9" fill="#5a5a5a"/>
<circle cx="927.5" cy="455.3" r="0.9" fill="#5a5a5a"/>
<circle cx="922.3" cy="460.5" r="0.9" fill="#5a5a5a"/>
<circle cx="927.5" cy="460.5" r="0.9" fill="#5a5a5a"/>
<circle cx="922.3" cy="465.7" r="0.9" fill="#5a5a5a"/>
<circle cx="927.5" cy="465.7" r="0.9" fill="#5a5a5a"/>
<text x="9.5" y="499.2" font-size="12.5" fill="#d2d2d2" textLength="30.0" lengthAdjust="spacingAndGlyphs" stroke="#d2d2d2" stroke-width="0.3">تعديل</text>
<line x1="50.7" y1="485" x2="50.7" y2="505.5" stroke="#363636" stroke-width="1"/>
<text x="60.0" y="500.1" font-size="12.3" fill="#d2d2d2" textLength="90.7" lengthAdjust="spacingAndGlyphs" stroke="#d2d2d2" stroke-width="0.45">UTC+4 18:45:11</text>
<g fill="none" stroke="#bebebe" stroke-width="1.4" stroke-linecap="round" stroke-linejoin="round"><path d="M586 495v-4.7q0-1.8-1.8-1.8h-11.4q-1.8 0-1.8 1.8v2.2M571 492h15M574.8 486.7v3.2M582.2 486.7v3.2M586 498v3q0 1.8-1.8 1.8h-6.5M569 498.5h7.5M574 495.5l3 3-3 3"/></g>
<line x1="599" y1="485" x2="599" y2="505.5" stroke="#363636" stroke-width="1"/>
<text x="609.5" y="499.2" font-size="12.5" fill="#d2d2d2" textLength="13.1" lengthAdjust="spacingAndGlyphs" stroke="#d2d2d2" stroke-width="0.3">كل</text>
<text x="675.7" y="500.5" font-size="12.5" fill="#d2d2d2" textLength="7.3" lengthAdjust="spacingAndGlyphs" stroke="#d2d2d2" stroke-width="0.45">5</text>
<text x="636.0" y="499.2" font-size="12.5" fill="#d2d2d2" textLength="34.9" lengthAdjust="spacingAndGlyphs" stroke="#d2d2d2" stroke-width="0.3">سنوات</text>
<text x="719.0" y="500.5" font-size="12.5" fill="#d2d2d2" textLength="6.5" lengthAdjust="spacingAndGlyphs" stroke="#d2d2d2" stroke-width="0.45">1</text>
<text x="695.0" y="499.2" font-size="12.5" fill="#d2d2d2" textLength="19.5" lengthAdjust="spacingAndGlyphs" stroke="#d2d2d2" stroke-width="0.3">سنة</text>
<text x="738.0" y="500.5" font-size="12.5" fill="#d2d2d2" textLength="22.7" lengthAdjust="spacingAndGlyphs" stroke="#d2d2d2" stroke-width="0.45">YTD</text>
<text x="801.5" y="500.5" font-size="12.5" fill="#d2d2d2" textLength="7.2" lengthAdjust="spacingAndGlyphs" stroke="#d2d2d2" stroke-width="0.45">6</text>
<text x="772.5" y="499.2" font-size="12.5" fill="#d2d2d2" textLength="24.6" lengthAdjust="spacingAndGlyphs" stroke="#d2d2d2" stroke-width="0.3">أشهر</text>
<text x="849.5" y="500.5" font-size="12.5" fill="#d2d2d2" textLength="7.2" lengthAdjust="spacingAndGlyphs" stroke="#d2d2d2" stroke-width="0.45">3</text>
<text x="820.8" y="499.2" font-size="12.5" fill="#d2d2d2" textLength="24.8" lengthAdjust="spacingAndGlyphs" stroke="#d2d2d2" stroke-width="0.3">أشهر</text>
<text x="894.5" y="500.5" font-size="12.5" fill="#d2d2d2" textLength="6.3" lengthAdjust="spacingAndGlyphs" stroke="#d2d2d2" stroke-width="0.45">1</text>
<text x="868.8" y="499.2" font-size="12.5" fill="#d2d2d2" textLength="20.8" lengthAdjust="spacingAndGlyphs" stroke="#d2d2d2" stroke-width="0.3">شهر</text>
<text x="935.0" y="500.5" font-size="12.5" fill="#d2d2d2" textLength="7.2" lengthAdjust="spacingAndGlyphs" stroke="#d2d2d2" stroke-width="0.45">5</text>
<text x="913.4" y="499.2" font-size="12.5" fill="#d2d2d2" textLength="16.5" lengthAdjust="spacingAndGlyphs" stroke="#d2d2d2" stroke-width="0.3">أيام</text>
<text x="954.3" y="499.2" font-size="12.5" fill="#d2d2d2" textLength="15.7" lengthAdjust="spacingAndGlyphs" stroke="#d2d2d2" stroke-width="0.3">يوم</text>
<rect x="1" y="4.900" width="41.600" height="26" rx="13" fill="#efefef"/>
<text x="12.5" y="23.1" font-size="12" fill="#0f0f0f" font-weight="bold" textLength="18.3" lengthAdjust="spacingAndGlyphs">نشر</text>
<g fill="none" stroke="#bebebe" stroke-width="1.45" stroke-linecap="round" stroke-linejoin="round"><path d="M56.3 13h3.3l1.3-2h5.2l1.3 2h3.3q1.8 0 1.8 1.8v8q0 1.8-1.8 1.8h-14.4q-1.8 0-1.8-1.8v-8q0-1.8 1.8-1.8z"/><circle cx="63.5" cy="18.6" r="3.4"/></g>
<g fill="none" stroke="#bebebe" stroke-width="1.45" stroke-linecap="round" stroke-linejoin="round"><path d="M92 14.5v-2.2q0-1.5 1.5-1.5h2.2M102.8 10.8h2.2q1.5 0 1.5 1.5v2.2M106.5 21v2.2q0 1.5-1.5 1.5h-2.2M95.7 24.7h-2.2q-1.5 0-1.5-1.5v-2.2"/></g>
<g fill="none" stroke="#bebebe" stroke-width="1.45" stroke-linecap="round" stroke-linejoin="round"><path d="M125.5 17.8l4.6-8h9.2l4.6 8-4.6 8h-9.2z"/><circle cx="134.7" cy="17.8" r="2.9"/></g>
<g fill="none" stroke="#bebebe" stroke-width="1.4" stroke-linecap="round" stroke-linejoin="round"><path d="M166.5 10.2a6.6 6.6 0 1 0 9 8.5M174 21.5l4 4.5"/><path d="M171.5 8.8l-3.6 6h3.6l-1.6 5 5.4-7.2h-3.6l2.3-3.8z"/></g>
<line x1="191.2" y1="8" x2="191.2" y2="28" stroke="#363636" stroke-width="1"/>
<g fill="none" stroke="#bebebe" stroke-width="1.4" stroke-linecap="round" stroke-linejoin="round"><path d="M204.3 16.5l3.2 3.2 3.2-3.2"/></g>
<text x="223.7" y="20.0" font-size="13" fill="#e0e0e0" font-weight="bold" textLength="51.7" lengthAdjust="spacingAndGlyphs">بدون اسم</text>
<text x="241.2" y="28.3" font-size="9" fill="#2f5fff" textLength="17.3" lengthAdjust="spacingAndGlyphs">حفظ</text>
<g fill="none" stroke="#bebebe" stroke-width="1.45" stroke-linecap="round" stroke-linejoin="round"><rect x="289.3" y="10.7" width="17.6" height="15.2" rx="2.3"/></g>
<g fill="none" stroke="#5c5c5c" stroke-width="1.45" stroke-linecap="round" stroke-linejoin="round"><path d="M406 22.2q0-5.500 5.500-5.500h6.500M415 13.700l3.200 3-3.200 3"/></g>
<g fill="none" stroke="#bebebe" stroke-width="1.45" stroke-linecap="round" stroke-linejoin="round"><path d="M453.500 22.200q0-5.500-5.500-5.500h-6.500M444.500 13.700l-3.200 3 3.200 3"/></g>
<line x1="469.3" y1="8" x2="469.3" y2="28" stroke="#363636" stroke-width="1"/>
<text x="483.0" y="24.0" font-size="13.5" fill="#e0e0e0" textLength="74.3" lengthAdjust="spacingAndGlyphs" stroke="#e0e0e0" stroke-width="0.3">إعادة التشغيل</text>
<g fill="none" stroke="#bebebe" stroke-width="1.4" stroke-linecap="round" stroke-linejoin="round"><path d="M574 14.8v8.5l-6-4.25zM582 14.8v8.5l-6-4.25z"/></g>
<text x="602.0" y="24.0" font-size="13.5" fill="#e0e0e0" textLength="23.0" lengthAdjust="spacingAndGlyphs" stroke="#e0e0e0" stroke-width="0.3">تنبيه</text>
<g fill="none" stroke="#bebebe" stroke-width="1.4" stroke-linecap="round" stroke-linejoin="round"><path d="M649 20.5a7 7 0 1 0-6 5.3M641.8 14.5v4.5h-3.4M635.2 9.6l-2.3 2.4M647 9.2l2.7 2.4M648.8 21.3v5.4M646.1 24h5.4"/></g>
<line x1="664" y1="8" x2="664" y2="28" stroke="#363636" stroke-width="1"/>
<g fill="none" stroke="#bebebe" stroke-width="1.4" stroke-linecap="round" stroke-linejoin="round"><rect x="678.3" y="11" width="5.8" height="5.8" rx="1.3"/><rect x="687.5" y="11" width="5.8" height="5.8" rx="1.3"/><rect x="678.3" y="19.6" width="5.8" height="5.8" rx="1.3"/><rect x="687.5" y="19.6" width="5.8" height="5.8" rx="1.3"/></g>
<text x="713.3" y="23.7" font-size="13.5" fill="#e0e0e0" textLength="41.8" lengthAdjust="spacingAndGlyphs" stroke="#e0e0e0" stroke-width="0.3">مؤشرات</text>
<g fill="none" stroke="#bebebe" stroke-width="1.4" stroke-linecap="round" stroke-linejoin="round"><path d="M765 15.5l4.3-4 3.5 2.6 5.5-5M765 26v-6h4v6M769 26v-8.5h4.5v8.5M773.5 26v-11h4.5v11zM764.5 26h14"/></g>
<line x1="794.3" y1="8" x2="794.3" y2="28" stroke="#363636" stroke-width="1"/>
<g fill="none" stroke="#bebebe" stroke-width="1.4" stroke-linecap="round" stroke-linejoin="round"><rect x="811.2" y="12" width="3.6" height="10.5" rx="0.8"/><path d="M813 9v3M813 22.5v3.7"/><rect x="819.4" y="14.3" width="3.6" height="6" rx="0.8"/><path d="M821.2 11.2v3.1M821.2 20.3v3.3"/></g>
<line x1="838.7" y1="8" x2="838.7" y2="28" stroke="#363636" stroke-width="1"/>
<text x="852.3" y="23.7" font-size="13.5" fill="#e0e0e0" textLength="31.7" lengthAdjust="spacingAndGlyphs" stroke="#e0e0e0" stroke-width="0.3">أسبوع</text>
<line x1="898" y1="8" x2="898" y2="28" stroke="#363636" stroke-width="1"/>
<g fill="none" stroke="#bebebe" stroke-width="1.45" stroke-linecap="round" stroke-linejoin="round"><circle cx="919.2" cy="18.5" r="8.3"/><path d="M915 18.5h8.4M919.2 14.3v8.4"/></g>
<text x="971.7" y="23.7" font-size="13" fill="#f2f2f2" font-weight="bold" textLength="28.5" lengthAdjust="spacingAndGlyphs">1010</text>
<g fill="none" stroke="#bebebe" stroke-width="1.6" stroke-linecap="round" stroke-linejoin="round"><circle cx="1011.5" cy="17.8" r="4.8"/><path d="M1015 21.5l3.8 3.8"/></g>
<g fill="none" stroke="#bebebe" stroke-width="1.35" stroke-linecap="round" stroke-linejoin="round"><path d="M1000.2 52.300h19v20.300l-9.500-5-9.500 5z"/><path d="M1004.300 57.400h10.800M1004.300 61h10.800M1004.300 64.600h10.800"/></g>
<g fill="none" stroke="#bebebe" stroke-width="1.35" stroke-linecap="round" stroke-linejoin="round"><circle cx="1009.600" cy="104" r="8.800"/><path d="M1009.600 98.600v5.600h-4.200M1001.800 93.600l-3.400 3.300M1017.400 93.600l3.400 3.300"/></g>
<g fill="none" stroke="#bebebe" stroke-width="1.35" stroke-linecap="round" stroke-linejoin="round"><path d="M1009.600 138.200l10.400 6.200-10.400 6.200-10.400-6.200z"/><path d="M1001.300 149l-2.100 1.300 10.400 6.200 10.400-6.200-2.100-1.300"/></g>
<g fill="none" stroke="#bebebe" stroke-width="1.35" stroke-linecap="round" stroke-linejoin="round"><path d="M1000 179.700h13q2 0 2 2v9.600q0 2-2 2h-8.200l-4.300 3.700v-3.700h-0.500q-2 0-2-2v-9.600q0-2 2-2z"/><path d="M1015 186.800h4q2 0 2 2v8q0 2-2 2h-0.300v3.200l-3.800-3.200h-6.400q-2 0-2-2v-3.400"/></g>
<g fill="none" stroke="#bebebe" stroke-width="1.35" stroke-linecap="round" stroke-linejoin="round"><circle cx="1009.300" cy="348.500" r="12.300"/><circle cx="1009.300" cy="348.500" r="6.800"/><path d="M1009.800 348l8.300-8.300"/></g>
<circle cx="1009.300" cy="348.500" r="1.700" fill="#d6d6d6"/>
<g fill="none" stroke="#bebebe" stroke-width="1.35" stroke-linecap="round" stroke-linejoin="round"><rect x="998.900" y="383" width="21.400" height="19.400" rx="3"/><path d="M998.900 389.800h21.400"/><rect x="1003.200" y="380.600" width="2.600" height="5" rx="1.300"/><rect x="1013.500" y="380.600" width="2.600" height="5" rx="1.300"/></g>
<circle cx="1009.300" cy="433.800" r="15.400" fill="#f0f0f0"/>
<rect x="1001.4" y="425.9" width="3.500" height="3.500" rx="0.800" fill="#0f0f0f"/>
<rect x="1007.6" y="425.9" width="3.500" height="3.500" rx="0.800" fill="#0f0f0f"/>
<rect x="1013.9" y="425.9" width="3.500" height="3.500" rx="0.800" fill="#0f0f0f"/>
<rect x="1001.4" y="432.2" width="3.500" height="3.500" rx="0.800" fill="#0f0f0f"/>
<rect x="1007.6" y="432.2" width="3.500" height="3.500" rx="0.800" fill="#0f0f0f"/>
<rect x="1013.9" y="432.2" width="3.500" height="3.500" rx="0.800" fill="#0f0f0f"/>
<rect x="1001.4" y="438.5" width="3.500" height="3.500" rx="0.800" fill="#0f0f0f"/>
<rect x="1007.6" y="438.5" width="3.500" height="3.500" rx="0.800" fill="#0f0f0f"/>
<rect x="1013.9" y="438.5" width="3.500" height="3.500" rx="0.800" fill="#0f0f0f"/>
<line x1="994" y1="460.300" x2="1024" y2="460.300" stroke="#363636" stroke-width="1"/>
<g fill="none" stroke="#bebebe" stroke-width="1.35" stroke-linecap="round" stroke-linejoin="round"><circle cx="1001.100" cy="494" r="1.500"/><path d="M1000.600 486.200a7.800 7.800 0 0 1 8.300 8.300M1000.600 480.500a13.500 13.500 0 0 1 14 14M1000.600 475a19 19 0 0 1 19.500 19.500"/></g>
</svg>
</body></html>
